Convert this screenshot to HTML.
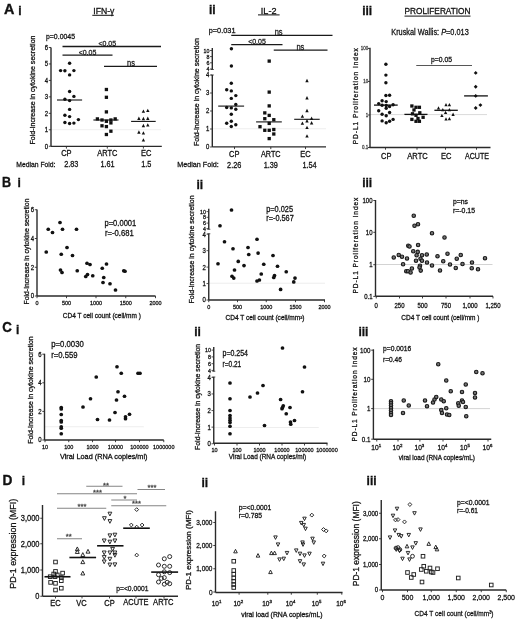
<!DOCTYPE html>
<html><head><meta charset="utf-8"><style>
html,body{margin:0;padding:0;background:#fff;}
svg{display:block;font-family:"Liberation Sans", sans-serif;filter:grayscale(100%);}
text{stroke:#111;stroke-width:0.28px;}
</style></head><body>
<svg width="520" height="619" viewBox="0 0 520 619" font-family='"Liberation Sans", sans-serif' fill="#111">
<rect width="520" height="619" fill="#fff"/>
<text x="4.00" y="13.50" font-size="14" font-weight="bold" textLength="10.4" lengthAdjust="spacingAndGlyphs" style="stroke-width:0.35px">A</text>
<text x="18.20" y="15.30" font-size="12" font-weight="bold" style="stroke-width:0.3px">i</text>
<text x="209.00" y="14.40" font-size="12" font-weight="bold" style="stroke-width:0.3px">ii</text>
<text x="362.20" y="14.50" font-size="12" font-weight="bold" style="stroke-width:0.3px">iii</text>
<text x="2.00" y="187.30" font-size="14" font-weight="bold" textLength="9.1" lengthAdjust="spacingAndGlyphs" style="stroke-width:0.35px">B</text>
<text x="17.50" y="187.30" font-size="12" font-weight="bold" style="stroke-width:0.3px">i</text>
<text x="196.50" y="188.70" font-size="12" font-weight="bold" style="stroke-width:0.3px">ii</text>
<text x="362.20" y="187.00" font-size="12" font-weight="bold" style="stroke-width:0.3px">iii</text>
<text x="2.20" y="332.40" font-size="14" font-weight="bold" textLength="9.6" lengthAdjust="spacingAndGlyphs" style="stroke-width:0.35px">C</text>
<text x="15.90" y="334.40" font-size="12" font-weight="bold" style="stroke-width:0.3px">i</text>
<text x="194.20" y="335.50" font-size="12" font-weight="bold" style="stroke-width:0.3px">ii</text>
<text x="358.40" y="335.50" font-size="12" font-weight="bold" style="stroke-width:0.3px">iii</text>
<text x="2.50" y="484.70" font-size="14" font-weight="bold" textLength="9.9" lengthAdjust="spacingAndGlyphs" style="stroke-width:0.35px">D</text>
<text x="21.80" y="485.40" font-size="12" font-weight="bold" style="stroke-width:0.3px">i</text>
<text x="201.50" y="486.70" font-size="12" font-weight="bold" style="stroke-width:0.3px">ii</text>
<text x="366.60" y="485.30" font-size="12" font-weight="bold" style="stroke-width:0.3px">iii</text>
<text x="103.85" y="14.30" font-size="8.6" text-anchor="middle" textLength="21.10" lengthAdjust="spacingAndGlyphs">IFN-γ</text>
<line x1="92.30" y1="15.30" x2="113.80" y2="15.30" stroke="#111" stroke-width="1.0"/>
<text x="60.50" y="38.54" font-size="7.6" text-anchor="middle" textLength="29.00" lengthAdjust="spacingAndGlyphs">p=0.0045</text>
<text x="32.70" y="92.10" font-size="7" text-anchor="middle" textLength="109.00" lengthAdjust="spacingAndGlyphs" transform="rotate(-90 32.70 90.00)">Fold-Increase in cytokine secretion</text>
<line x1="51.00" y1="129.70" x2="161.00" y2="129.70" stroke="#e6e6e6" stroke-width="0.6"/>
<line x1="51.00" y1="47.50" x2="51.00" y2="146.25" stroke="#2a2a2a" stroke-width="1.4"/>
<line x1="48.80" y1="146.25" x2="51.00" y2="146.25" stroke="#2a2a2a" stroke-width="0.9"/>
<text x="48.00" y="148.67" font-size="6.720000000000001" text-anchor="end" textLength="3.34" lengthAdjust="spacingAndGlyphs">0</text>
<line x1="48.80" y1="129.79" x2="51.00" y2="129.79" stroke="#2a2a2a" stroke-width="0.9"/>
<text x="48.00" y="132.21" font-size="6.720000000000001" text-anchor="end" textLength="3.34" lengthAdjust="spacingAndGlyphs">1</text>
<line x1="48.80" y1="113.33" x2="51.00" y2="113.33" stroke="#2a2a2a" stroke-width="0.9"/>
<text x="48.00" y="115.75" font-size="6.720000000000001" text-anchor="end" textLength="3.34" lengthAdjust="spacingAndGlyphs">2</text>
<line x1="48.80" y1="96.87" x2="51.00" y2="96.87" stroke="#2a2a2a" stroke-width="0.9"/>
<text x="48.00" y="99.29" font-size="6.720000000000001" text-anchor="end" textLength="3.34" lengthAdjust="spacingAndGlyphs">3</text>
<line x1="48.80" y1="80.41" x2="51.00" y2="80.41" stroke="#2a2a2a" stroke-width="0.9"/>
<text x="48.00" y="82.83" font-size="6.720000000000001" text-anchor="end" textLength="3.34" lengthAdjust="spacingAndGlyphs">4</text>
<line x1="48.80" y1="63.95" x2="51.00" y2="63.95" stroke="#2a2a2a" stroke-width="0.9"/>
<text x="48.00" y="66.37" font-size="6.720000000000001" text-anchor="end" textLength="3.34" lengthAdjust="spacingAndGlyphs">5</text>
<line x1="48.80" y1="47.49" x2="51.00" y2="47.49" stroke="#2a2a2a" stroke-width="0.9"/>
<text x="48.00" y="49.91" font-size="6.720000000000001" text-anchor="end" textLength="3.34" lengthAdjust="spacingAndGlyphs">6</text>
<line x1="51.00" y1="146.40" x2="161.80" y2="146.40" stroke="#2a2a2a" stroke-width="1.4"/>
<line x1="66.40" y1="146.40" x2="66.40" y2="148.60" stroke="#2a2a2a" stroke-width="0.9"/>
<line x1="107.30" y1="146.40" x2="107.30" y2="148.60" stroke="#2a2a2a" stroke-width="0.9"/>
<line x1="143.40" y1="146.40" x2="143.40" y2="148.60" stroke="#2a2a2a" stroke-width="0.9"/>
<text x="66.40" y="155.62" font-size="8.4" text-anchor="middle" textLength="10.42" lengthAdjust="spacingAndGlyphs">CP</text>
<text x="107.30" y="155.59" font-size="8.3" text-anchor="middle" textLength="20.00" lengthAdjust="spacingAndGlyphs">ARTC</text>
<text x="146.30" y="155.62" font-size="8.4" text-anchor="middle" textLength="10.42" lengthAdjust="spacingAndGlyphs">EC</text>
<text x="35.88" y="166.78" font-size="8.0" text-anchor="middle" textLength="39.25" lengthAdjust="spacingAndGlyphs">Median Fold:</text>
<text x="71.25" y="166.89" font-size="8.3" text-anchor="middle" textLength="14.22" lengthAdjust="spacingAndGlyphs">2.83</text>
<text x="107.50" y="166.89" font-size="8.3" text-anchor="middle" textLength="14.22" lengthAdjust="spacingAndGlyphs">1.61</text>
<text x="146.30" y="166.89" font-size="8.3" text-anchor="middle" textLength="10.15" lengthAdjust="spacingAndGlyphs">1.5</text>
<line x1="62.50" y1="46.50" x2="161.00" y2="46.50" stroke="#1a1a1a" stroke-width="1.3"/>
<text x="107.30" y="45.82" font-size="7.840000000000001" text-anchor="middle" textLength="17.71" lengthAdjust="spacingAndGlyphs" fill="#1a1a1a" style="stroke:#1a1a1a">&lt;0.05</text>
<line x1="62.50" y1="55.20" x2="112.50" y2="55.20" stroke="#1a1a1a" stroke-width="1.3"/>
<text x="87.50" y="54.52" font-size="7.840000000000001" text-anchor="middle" textLength="17.71" lengthAdjust="spacingAndGlyphs" fill="#1a1a1a" style="stroke:#1a1a1a">&lt;0.05</text>
<line x1="104.00" y1="66.40" x2="157.00" y2="66.40" stroke="#1a1a1a" stroke-width="1.3"/>
<text x="131.00" y="66.42" font-size="8.4" text-anchor="middle" textLength="7.92" lengthAdjust="spacingAndGlyphs" fill="#1a1a1a" style="stroke:#1a1a1a">ns</text>
<circle cx="69.60" cy="63.30" r="1.72" fill="#111"/>
<circle cx="60.60" cy="70.60" r="1.72" fill="#111"/>
<circle cx="64.90" cy="70.80" r="1.72" fill="#111"/>
<circle cx="73.90" cy="70.60" r="1.72" fill="#111"/>
<circle cx="69.60" cy="74.90" r="1.72" fill="#111"/>
<circle cx="69.60" cy="91.50" r="1.72" fill="#111"/>
<circle cx="73.90" cy="96.40" r="1.72" fill="#111"/>
<circle cx="64.90" cy="99.30" r="1.72" fill="#111"/>
<circle cx="69.60" cy="100.60" r="1.72" fill="#111"/>
<circle cx="69.60" cy="109.40" r="1.72" fill="#111"/>
<circle cx="64.90" cy="115.20" r="1.72" fill="#111"/>
<circle cx="69.60" cy="116.60" r="1.72" fill="#111"/>
<circle cx="78.40" cy="119.60" r="1.72" fill="#111"/>
<circle cx="64.90" cy="122.50" r="1.72" fill="#111"/>
<circle cx="69.60" cy="123.50" r="1.72" fill="#111"/>
<circle cx="73.90" cy="123.10" r="1.72" fill="#111"/>
<line x1="57.00" y1="100.00" x2="82.10" y2="100.00" stroke="#111" stroke-width="1.1"/>
<rect x="104.75" y="87.85" width="3.3" height="3.3" fill="#111"/>
<rect x="104.75" y="95.65" width="3.3" height="3.3" fill="#111"/>
<rect x="104.75" y="110.25" width="3.3" height="3.3" fill="#111"/>
<rect x="95.75" y="117.25" width="3.3" height="3.3" fill="#111"/>
<rect x="100.35" y="118.35" width="3.3" height="3.3" fill="#111"/>
<rect x="104.75" y="119.65" width="3.3" height="3.3" fill="#111"/>
<rect x="109.25" y="118.35" width="3.3" height="3.3" fill="#111"/>
<rect x="113.55" y="117.25" width="3.3" height="3.3" fill="#111"/>
<rect x="109.25" y="121.25" width="3.3" height="3.3" fill="#111"/>
<rect x="100.35" y="124.15" width="3.3" height="3.3" fill="#111"/>
<rect x="104.75" y="124.95" width="3.3" height="3.3" fill="#111"/>
<rect x="109.25" y="129.55" width="3.3" height="3.3" fill="#111"/>
<rect x="104.75" y="132.85" width="3.3" height="3.3" fill="#111"/>
<line x1="93.40" y1="120.00" x2="118.50" y2="120.00" stroke="#111" stroke-width="1.1"/>
<polygon points="143.40,109.47 145.10,112.83 141.70,112.83" fill="#111"/>
<polygon points="147.80,108.67 149.50,112.03 146.10,112.03" fill="#111"/>
<polygon points="138.90,116.57 140.60,119.93 137.20,119.93" fill="#111"/>
<polygon points="143.40,116.87 145.10,120.23 141.70,120.23" fill="#111"/>
<polygon points="147.80,116.57 149.50,119.93 146.10,119.93" fill="#111"/>
<polygon points="143.40,123.87 145.10,127.23 141.70,127.23" fill="#111"/>
<polygon points="147.80,123.17 149.50,126.53 146.10,126.53" fill="#111"/>
<polygon points="138.90,130.37 140.60,133.73 137.20,133.73" fill="#111"/>
<polygon points="143.40,131.17 145.10,134.53 141.70,134.53" fill="#111"/>
<polygon points="143.40,138.17 145.10,141.53 141.70,141.53" fill="#111"/>
<line x1="131.10" y1="121.40" x2="155.70" y2="121.40" stroke="#111" stroke-width="1.1"/>
<text x="268.65" y="13.54" font-size="9" text-anchor="middle" textLength="15.70" lengthAdjust="spacingAndGlyphs">IL-2</text>
<line x1="258.00" y1="14.90" x2="279.60" y2="14.90" stroke="#111" stroke-width="1.0"/>
<text x="222.12" y="32.84" font-size="7.9" text-anchor="middle" textLength="26.75" lengthAdjust="spacingAndGlyphs">p=0.031</text>
<text x="197.00" y="94.10" font-size="7" text-anchor="middle" textLength="108.00" lengthAdjust="spacingAndGlyphs" transform="rotate(-90 197.00 92.00)">Fold-Increase in cytokine secretion</text>
<line x1="212.50" y1="128.75" x2="326.00" y2="128.75" stroke="#e2e2e2" stroke-width="0.6"/>
<line x1="212.30" y1="48.00" x2="212.30" y2="69.50" stroke="#2a2a2a" stroke-width="1.4"/>
<line x1="210.00" y1="50.50" x2="212.30" y2="50.50" stroke="#2a2a2a" stroke-width="0.8"/>
<text x="209.50" y="52.64" font-size="5.936" text-anchor="end" textLength="5.90" lengthAdjust="spacingAndGlyphs">10</text>
<line x1="210.00" y1="56.60" x2="212.30" y2="56.60" stroke="#2a2a2a" stroke-width="0.8"/>
<text x="209.50" y="58.74" font-size="5.936" text-anchor="end" textLength="2.95" lengthAdjust="spacingAndGlyphs">8</text>
<line x1="210.00" y1="62.80" x2="212.30" y2="62.80" stroke="#2a2a2a" stroke-width="0.8"/>
<text x="209.50" y="64.94" font-size="5.936" text-anchor="end" textLength="2.95" lengthAdjust="spacingAndGlyphs">6</text>
<line x1="210.00" y1="69.00" x2="212.30" y2="69.00" stroke="#2a2a2a" stroke-width="0.8"/>
<text x="209.50" y="71.14" font-size="5.936" text-anchor="end" textLength="2.95" lengthAdjust="spacingAndGlyphs">4</text>
<line x1="210.80" y1="69.50" x2="213.80" y2="69.50" stroke="#2a2a2a" stroke-width="0.8"/>
<line x1="212.30" y1="75.00" x2="212.30" y2="147.00" stroke="#2a2a2a" stroke-width="1.4"/>
<line x1="210.80" y1="75.00" x2="213.80" y2="75.00" stroke="#2a2a2a" stroke-width="0.8"/>
<line x1="210.00" y1="147.00" x2="212.30" y2="147.00" stroke="#2a2a2a" stroke-width="0.8"/>
<text x="209.30" y="149.42" font-size="6.720000000000001" text-anchor="end" textLength="3.34" lengthAdjust="spacingAndGlyphs">0</text>
<line x1="210.00" y1="129.00" x2="212.30" y2="129.00" stroke="#2a2a2a" stroke-width="0.8"/>
<text x="209.30" y="131.42" font-size="6.720000000000001" text-anchor="end" textLength="3.34" lengthAdjust="spacingAndGlyphs">1</text>
<line x1="210.00" y1="111.00" x2="212.30" y2="111.00" stroke="#2a2a2a" stroke-width="0.8"/>
<text x="209.30" y="113.42" font-size="6.720000000000001" text-anchor="end" textLength="3.34" lengthAdjust="spacingAndGlyphs">2</text>
<line x1="210.00" y1="93.00" x2="212.30" y2="93.00" stroke="#2a2a2a" stroke-width="0.8"/>
<text x="209.30" y="95.42" font-size="6.720000000000001" text-anchor="end" textLength="3.34" lengthAdjust="spacingAndGlyphs">3</text>
<line x1="210.00" y1="75.00" x2="212.30" y2="75.00" stroke="#2a2a2a" stroke-width="0.8"/>
<text x="209.30" y="77.42" font-size="6.720000000000001" text-anchor="end" textLength="3.34" lengthAdjust="spacingAndGlyphs">4</text>
<line x1="212.30" y1="146.90" x2="326.00" y2="146.90" stroke="#2a2a2a" stroke-width="1.4"/>
<line x1="234.50" y1="146.90" x2="234.50" y2="149.10" stroke="#2a2a2a" stroke-width="0.9"/>
<line x1="270.80" y1="146.90" x2="270.80" y2="149.10" stroke="#2a2a2a" stroke-width="0.9"/>
<line x1="305.50" y1="146.90" x2="305.50" y2="149.10" stroke="#2a2a2a" stroke-width="0.9"/>
<text x="234.20" y="157.42" font-size="8.4" text-anchor="middle" textLength="10.42" lengthAdjust="spacingAndGlyphs">CP</text>
<text x="270.80" y="157.39" font-size="8.3" text-anchor="middle" textLength="19.60" lengthAdjust="spacingAndGlyphs">ARTC</text>
<text x="305.40" y="157.42" font-size="8.4" text-anchor="middle" textLength="10.42" lengthAdjust="spacingAndGlyphs">EC</text>
<text x="198.05" y="167.48" font-size="8.0" text-anchor="middle" textLength="41.50" lengthAdjust="spacingAndGlyphs">Median Fold:</text>
<text x="234.20" y="167.59" font-size="8.3" text-anchor="middle" textLength="14.22" lengthAdjust="spacingAndGlyphs">2.26</text>
<text x="270.80" y="167.59" font-size="8.3" text-anchor="middle" textLength="14.22" lengthAdjust="spacingAndGlyphs">1.39</text>
<text x="309.50" y="167.59" font-size="8.3" text-anchor="middle" textLength="14.22" lengthAdjust="spacingAndGlyphs">1.54</text>
<line x1="231.25" y1="35.30" x2="332.50" y2="35.30" stroke="#1a1a1a" stroke-width="1.3"/>
<text x="278.60" y="35.02" font-size="8.4" text-anchor="middle" textLength="7.92" lengthAdjust="spacingAndGlyphs" fill="#1a1a1a" style="stroke:#1a1a1a">ns</text>
<line x1="231.25" y1="44.60" x2="282.50" y2="44.60" stroke="#1a1a1a" stroke-width="1.3"/>
<text x="257.00" y="44.02" font-size="7.840000000000001" text-anchor="middle" textLength="17.71" lengthAdjust="spacingAndGlyphs" fill="#1a1a1a" style="stroke:#1a1a1a">&lt;0.05</text>
<line x1="273.75" y1="50.10" x2="327.50" y2="50.10" stroke="#1a1a1a" stroke-width="1.3"/>
<text x="300.40" y="49.52" font-size="8.4" text-anchor="middle" textLength="7.92" lengthAdjust="spacingAndGlyphs" fill="#1a1a1a" style="stroke:#1a1a1a">ns</text>
<circle cx="231.40" cy="48.70" r="1.72" fill="#111"/>
<circle cx="231.40" cy="66.00" r="1.72" fill="#111"/>
<circle cx="231.30" cy="83.20" r="1.72" fill="#111"/>
<circle cx="226.70" cy="89.70" r="1.72" fill="#111"/>
<circle cx="231.30" cy="90.90" r="1.72" fill="#111"/>
<circle cx="235.80" cy="95.60" r="1.72" fill="#111"/>
<circle cx="231.30" cy="98.40" r="1.72" fill="#111"/>
<circle cx="235.80" cy="104.40" r="1.72" fill="#111"/>
<circle cx="226.70" cy="107.50" r="1.72" fill="#111"/>
<circle cx="231.30" cy="107.90" r="1.72" fill="#111"/>
<circle cx="235.80" cy="109.30" r="1.72" fill="#111"/>
<circle cx="231.30" cy="114.30" r="1.72" fill="#111"/>
<circle cx="231.30" cy="121.20" r="1.72" fill="#111"/>
<circle cx="226.70" cy="123.20" r="1.72" fill="#111"/>
<circle cx="235.80" cy="124.80" r="1.72" fill="#111"/>
<circle cx="231.30" cy="126.50" r="1.72" fill="#111"/>
<line x1="218.20" y1="106.10" x2="244.10" y2="106.10" stroke="#111" stroke-width="1.1"/>
<rect x="267.55" y="59.45" width="3.3" height="3.3" fill="#111"/>
<rect x="267.55" y="90.45" width="3.3" height="3.3" fill="#111"/>
<rect x="267.55" y="104.25" width="3.3" height="3.3" fill="#111"/>
<rect x="263.15" y="111.25" width="3.3" height="3.3" fill="#111"/>
<rect x="267.55" y="113.75" width="3.3" height="3.3" fill="#111"/>
<rect x="263.15" y="117.05" width="3.3" height="3.3" fill="#111"/>
<rect x="272.15" y="118.05" width="3.3" height="3.3" fill="#111"/>
<rect x="267.55" y="121.75" width="3.3" height="3.3" fill="#111"/>
<rect x="258.35" y="125.05" width="3.3" height="3.3" fill="#111"/>
<rect x="263.15" y="128.65" width="3.3" height="3.3" fill="#111"/>
<rect x="267.55" y="128.65" width="3.3" height="3.3" fill="#111"/>
<rect x="272.15" y="127.85" width="3.3" height="3.3" fill="#111"/>
<rect x="272.15" y="132.35" width="3.3" height="3.3" fill="#111"/>
<rect x="267.55" y="136.95" width="3.3" height="3.3" fill="#111"/>
<line x1="256.10" y1="121.90" x2="281.80" y2="121.90" stroke="#111" stroke-width="1.1"/>
<polygon points="307.00,78.87 308.70,82.23 305.30,82.23" fill="#111"/>
<polygon points="307.00,96.07 308.70,99.43 305.30,99.43" fill="#111"/>
<polygon points="307.00,108.77 308.70,112.13 305.30,112.13" fill="#111"/>
<polygon points="302.40,114.47 304.10,117.83 300.70,117.83" fill="#111"/>
<polygon points="311.60,116.57 313.30,119.93 309.90,119.93" fill="#111"/>
<polygon points="307.00,119.07 308.70,122.43 305.30,122.43" fill="#111"/>
<polygon points="302.40,121.47 304.10,124.83 300.70,124.83" fill="#111"/>
<polygon points="311.60,121.07 313.30,124.43 309.90,124.43" fill="#111"/>
<polygon points="307.00,125.67 308.70,129.03 305.30,129.03" fill="#111"/>
<polygon points="307.00,134.17 308.70,137.53 305.30,137.53" fill="#111"/>
<line x1="294.20" y1="119.30" x2="319.70" y2="119.30" stroke="#111" stroke-width="1.1"/>
<text x="437.50" y="14.15" font-size="8.2" text-anchor="middle" textLength="66.00" lengthAdjust="spacingAndGlyphs">PROLIFERATION</text>
<line x1="404.50" y1="16.10" x2="470.50" y2="16.10" stroke="#111" stroke-width="1.0"/>
<text x="391.25" y="35.27" font-size="8.8" textLength="77.50" lengthAdjust="spacingAndGlyphs">Kruskal Wallis: <tspan font-style="italic">P</tspan>=0.013</text>
<text x="356.30" y="98.18" font-size="6.6" text-anchor="middle" textLength="96.00" lengthAdjust="spacing" transform="rotate(-90 356.30 96.20)">PD-L1 Proliferation Index</text>
<line x1="369.50" y1="114.60" x2="487.00" y2="114.60" stroke="#cfcfcf" stroke-width="0.8"/>
<line x1="370.00" y1="47.80" x2="370.00" y2="147.50" stroke="#2a2a2a" stroke-width="1.4"/>
<line x1="367.80" y1="48.50" x2="370.00" y2="48.50" stroke="#2a2a2a" stroke-width="0.9"/>
<text x="368.20" y="50.31" font-size="5.040000000000001" text-anchor="end" textLength="7.51" lengthAdjust="spacingAndGlyphs" fill="#444" style="stroke:#444">100</text>
<line x1="367.80" y1="81.50" x2="370.00" y2="81.50" stroke="#2a2a2a" stroke-width="0.9"/>
<text x="368.20" y="83.31" font-size="5.040000000000001" text-anchor="end" textLength="5.01" lengthAdjust="spacingAndGlyphs" fill="#444" style="stroke:#444">10</text>
<line x1="367.80" y1="115.00" x2="370.00" y2="115.00" stroke="#2a2a2a" stroke-width="0.9"/>
<text x="368.20" y="116.81" font-size="5.040000000000001" text-anchor="end" textLength="2.50" lengthAdjust="spacingAndGlyphs" fill="#444" style="stroke:#444">1</text>
<line x1="367.80" y1="147.50" x2="370.00" y2="147.50" stroke="#2a2a2a" stroke-width="0.9"/>
<text x="368.20" y="149.31" font-size="5.040000000000001" text-anchor="end" textLength="6.26" lengthAdjust="spacingAndGlyphs" fill="#444" style="stroke:#444">0.1</text>
<line x1="369.50" y1="147.50" x2="490.50" y2="147.50" stroke="#2a2a2a" stroke-width="1.4"/>
<line x1="385.50" y1="147.50" x2="385.50" y2="149.70" stroke="#2a2a2a" stroke-width="0.9"/>
<line x1="417.00" y1="147.50" x2="417.00" y2="149.70" stroke="#2a2a2a" stroke-width="0.9"/>
<line x1="445.50" y1="147.50" x2="445.50" y2="149.70" stroke="#2a2a2a" stroke-width="0.9"/>
<line x1="476.50" y1="147.50" x2="476.50" y2="149.70" stroke="#2a2a2a" stroke-width="0.9"/>
<text x="386.20" y="159.22" font-size="8.4" text-anchor="middle" textLength="10.42" lengthAdjust="spacingAndGlyphs">CP</text>
<text x="417.50" y="159.19" font-size="8.3" text-anchor="middle" textLength="20.40" lengthAdjust="spacingAndGlyphs">ARTC</text>
<text x="446.20" y="159.22" font-size="8.4" text-anchor="middle" textLength="10.42" lengthAdjust="spacingAndGlyphs">EC</text>
<text x="477.00" y="159.19" font-size="8.3" text-anchor="middle" textLength="24.00" lengthAdjust="spacingAndGlyphs">ACUTE</text>
<text x="441.50" y="61.95" font-size="7.5" text-anchor="middle" textLength="21.00" lengthAdjust="spacingAndGlyphs">p=0.05</text>
<line x1="416.25" y1="65.50" x2="472.00" y2="65.50" stroke="#444" stroke-width="0.9"/>
<circle cx="385.90" cy="64.30" r="1.7" fill="#111"/>
<circle cx="385.90" cy="75.10" r="1.7" fill="#111"/>
<circle cx="385.90" cy="82.80" r="1.7" fill="#111"/>
<circle cx="385.90" cy="95.50" r="1.7" fill="#111"/>
<circle cx="389.60" cy="95.20" r="1.7" fill="#111"/>
<circle cx="382.10" cy="100.70" r="1.7" fill="#111"/>
<circle cx="386.20" cy="101.60" r="1.7" fill="#111"/>
<circle cx="378.70" cy="103.60" r="1.7" fill="#111"/>
<circle cx="382.10" cy="105.30" r="1.7" fill="#111"/>
<circle cx="386.20" cy="105.50" r="1.7" fill="#111"/>
<circle cx="389.60" cy="106.50" r="1.7" fill="#111"/>
<circle cx="393.10" cy="104.70" r="1.7" fill="#111"/>
<circle cx="386.20" cy="108.20" r="1.7" fill="#111"/>
<circle cx="378.70" cy="110.80" r="1.7" fill="#111"/>
<circle cx="389.60" cy="112.50" r="1.7" fill="#111"/>
<circle cx="382.10" cy="114.30" r="1.7" fill="#111"/>
<circle cx="386.20" cy="115.70" r="1.7" fill="#111"/>
<circle cx="382.10" cy="120.90" r="1.7" fill="#111"/>
<circle cx="386.20" cy="122.80" r="1.7" fill="#111"/>
<circle cx="389.60" cy="121.20" r="1.7" fill="#111"/>
<circle cx="393.10" cy="119.40" r="1.7" fill="#111"/>
<line x1="374.00" y1="105.10" x2="397.70" y2="105.10" stroke="#111" stroke-width="1.3"/>
<rect x="410.25" y="104.35" width="3.3" height="3.3" fill="#111"/>
<rect x="414.35" y="105.65" width="3.3" height="3.3" fill="#111"/>
<rect x="417.75" y="105.65" width="3.3" height="3.3" fill="#111"/>
<rect x="410.85" y="112.15" width="3.3" height="3.3" fill="#111"/>
<rect x="414.35" y="113.65" width="3.3" height="3.3" fill="#111"/>
<rect x="418.15" y="111.15" width="3.3" height="3.3" fill="#111"/>
<rect x="421.45" y="115.65" width="3.3" height="3.3" fill="#111"/>
<rect x="410.25" y="117.75" width="3.3" height="3.3" fill="#111"/>
<rect x="414.35" y="119.65" width="3.3" height="3.3" fill="#111"/>
<rect x="417.75" y="119.65" width="3.3" height="3.3" fill="#111"/>
<rect x="412.35" y="108.35" width="3.3" height="3.3" fill="#111"/>
<rect x="416.35" y="116.85" width="3.3" height="3.3" fill="#111"/>
<line x1="404.40" y1="114.40" x2="427.50" y2="114.40" stroke="#111" stroke-width="1.3"/>
<polygon points="446.00,103.02 447.65,106.28 444.35,106.28" fill="#111"/>
<polygon points="449.40,103.02 451.05,106.28 447.75,106.28" fill="#111"/>
<polygon points="438.50,106.31 440.15,109.58 436.85,109.58" fill="#111"/>
<polygon points="442.80,108.02 444.45,111.28 441.15,111.28" fill="#111"/>
<polygon points="449.40,108.02 451.05,111.28 447.75,111.28" fill="#111"/>
<polygon points="441.90,113.81 443.55,117.08 440.25,117.08" fill="#111"/>
<polygon points="445.60,110.72 447.25,113.98 443.95,113.98" fill="#111"/>
<polygon points="453.10,112.62 454.75,115.89 451.45,115.89" fill="#111"/>
<polygon points="446.00,117.22 447.65,120.48 444.35,120.48" fill="#111"/>
<polygon points="449.40,117.02 451.05,120.28 447.75,120.28" fill="#111"/>
<line x1="434.40" y1="110.30" x2="457.80" y2="110.30" stroke="#111" stroke-width="1.3"/>
<polygon points="475.70,70.95 477.65,72.90 475.70,74.85 473.75,72.90" fill="#111"/>
<polygon points="475.70,84.75 477.65,86.70 475.70,88.65 473.75,86.70" fill="#111"/>
<polygon points="475.70,93.95 477.65,95.90 475.70,97.85 473.75,95.90" fill="#111"/>
<polygon points="480.40,103.15 482.35,105.10 480.40,107.05 478.45,105.10" fill="#111"/>
<polygon points="475.70,106.05 477.65,108.00 475.70,109.95 473.75,108.00" fill="#111"/>
<line x1="464.10" y1="95.90" x2="487.90" y2="95.90" stroke="#111" stroke-width="1.3"/>
<text x="26.70" y="253.60" font-size="7" text-anchor="middle" textLength="106.00" lengthAdjust="spacingAndGlyphs" transform="rotate(-90 26.70 251.50)">Fold-Increase in cytokine secretion</text>
<line x1="37.00" y1="209.50" x2="37.00" y2="296.00" stroke="#2a2a2a" stroke-width="1.4"/>
<line x1="34.80" y1="296.00" x2="37.00" y2="296.00" stroke="#2a2a2a" stroke-width="0.9"/>
<text x="34.00" y="298.42" font-size="6.720000000000001" text-anchor="end" textLength="3.34" lengthAdjust="spacingAndGlyphs">0</text>
<line x1="34.80" y1="267.25" x2="37.00" y2="267.25" stroke="#2a2a2a" stroke-width="0.9"/>
<text x="34.00" y="269.67" font-size="6.720000000000001" text-anchor="end" textLength="3.34" lengthAdjust="spacingAndGlyphs">2</text>
<line x1="34.80" y1="238.50" x2="37.00" y2="238.50" stroke="#2a2a2a" stroke-width="0.9"/>
<text x="34.00" y="240.92" font-size="6.720000000000001" text-anchor="end" textLength="3.34" lengthAdjust="spacingAndGlyphs">4</text>
<line x1="34.80" y1="209.75" x2="37.00" y2="209.75" stroke="#2a2a2a" stroke-width="0.9"/>
<text x="34.00" y="212.17" font-size="6.720000000000001" text-anchor="end" textLength="3.34" lengthAdjust="spacingAndGlyphs">6</text>
<line x1="37.00" y1="296.00" x2="155.50" y2="296.00" stroke="#2a2a2a" stroke-width="1.4"/>
<line x1="37.00" y1="296.00" x2="37.00" y2="298.20" stroke="#2a2a2a" stroke-width="0.9"/>
<text x="37.00" y="305.22" font-size="6.16" text-anchor="middle" textLength="3.06" lengthAdjust="spacingAndGlyphs">0</text>
<line x1="66.50" y1="296.00" x2="66.50" y2="298.20" stroke="#2a2a2a" stroke-width="0.9"/>
<text x="66.50" y="305.22" font-size="6.16" text-anchor="middle" textLength="9.18" lengthAdjust="spacingAndGlyphs">500</text>
<line x1="96.00" y1="296.00" x2="96.00" y2="298.20" stroke="#2a2a2a" stroke-width="0.9"/>
<text x="96.00" y="305.22" font-size="6.16" text-anchor="middle" textLength="12.24" lengthAdjust="spacingAndGlyphs">1000</text>
<line x1="125.75" y1="296.00" x2="125.75" y2="298.20" stroke="#2a2a2a" stroke-width="0.9"/>
<text x="125.75" y="305.22" font-size="6.16" text-anchor="middle" textLength="12.24" lengthAdjust="spacingAndGlyphs">1500</text>
<line x1="155.50" y1="296.00" x2="155.50" y2="298.20" stroke="#2a2a2a" stroke-width="0.9"/>
<text x="155.50" y="305.22" font-size="6.16" text-anchor="middle" textLength="12.24" lengthAdjust="spacingAndGlyphs">2000</text>
<text x="101.85" y="318.12" font-size="7" text-anchor="middle" textLength="78.10" lengthAdjust="spacingAndGlyphs">CD4 T cell count (cell/mm )</text>
<text x="120.38" y="226.02" font-size="8.4" text-anchor="middle" textLength="31.75" lengthAdjust="spacingAndGlyphs">p=0.0001</text>
<text x="119.38" y="236.02" font-size="8.4" text-anchor="middle" textLength="28.75" lengthAdjust="spacingAndGlyphs">r=-0.681</text>
<circle cx="60.00" cy="222.50" r="1.85" fill="#111"/>
<circle cx="48.25" cy="229.25" r="1.85" fill="#111"/>
<circle cx="62.50" cy="229.25" r="1.85" fill="#111"/>
<circle cx="76.50" cy="229.25" r="1.85" fill="#111"/>
<circle cx="52.50" cy="232.50" r="1.85" fill="#111"/>
<circle cx="67.00" cy="247.50" r="1.85" fill="#111"/>
<circle cx="46.25" cy="252.00" r="1.85" fill="#111"/>
<circle cx="61.25" cy="254.25" r="1.85" fill="#111"/>
<circle cx="72.50" cy="255.50" r="1.85" fill="#111"/>
<circle cx="87.00" cy="263.25" r="1.85" fill="#111"/>
<circle cx="90.00" cy="264.50" r="1.85" fill="#111"/>
<circle cx="102.25" cy="268.25" r="1.85" fill="#111"/>
<circle cx="106.50" cy="264.00" r="1.85" fill="#111"/>
<circle cx="60.50" cy="270.00" r="1.85" fill="#111"/>
<circle cx="62.00" cy="272.50" r="1.85" fill="#111"/>
<circle cx="77.25" cy="270.75" r="1.85" fill="#111"/>
<circle cx="85.75" cy="276.50" r="1.85" fill="#111"/>
<circle cx="87.50" cy="274.50" r="1.85" fill="#111"/>
<circle cx="92.75" cy="275.75" r="1.85" fill="#111"/>
<circle cx="103.75" cy="277.50" r="1.85" fill="#111"/>
<circle cx="103.00" cy="282.50" r="1.85" fill="#111"/>
<circle cx="110.00" cy="283.75" r="1.85" fill="#111"/>
<circle cx="115.50" cy="290.00" r="1.85" fill="#111"/>
<circle cx="123.75" cy="270.75" r="1.85" fill="#111"/>
<circle cx="125.00" cy="271.25" r="1.85" fill="#111"/>
<text x="191.80" y="251.50" font-size="7" text-anchor="middle" textLength="108.00" lengthAdjust="spacingAndGlyphs" transform="rotate(-90 191.80 249.40)">Fold-Increase in cytokine secretion</text>
<line x1="208.75" y1="283.25" x2="325.00" y2="283.25" stroke="#e2e2e2" stroke-width="0.6"/>
<line x1="208.75" y1="208.80" x2="208.75" y2="229.30" stroke="#2a2a2a" stroke-width="1.4"/>
<line x1="206.50" y1="211.60" x2="208.75" y2="211.60" stroke="#2a2a2a" stroke-width="0.8"/>
<text x="206.00" y="213.74" font-size="5.936" text-anchor="end" textLength="5.90" lengthAdjust="spacingAndGlyphs">10</text>
<line x1="206.50" y1="217.30" x2="208.75" y2="217.30" stroke="#2a2a2a" stroke-width="0.8"/>
<text x="206.00" y="219.44" font-size="5.936" text-anchor="end" textLength="2.95" lengthAdjust="spacingAndGlyphs">8</text>
<line x1="206.50" y1="223.10" x2="208.75" y2="223.10" stroke="#2a2a2a" stroke-width="0.8"/>
<text x="206.00" y="225.24" font-size="5.936" text-anchor="end" textLength="2.95" lengthAdjust="spacingAndGlyphs">6</text>
<line x1="206.50" y1="228.60" x2="208.75" y2="228.60" stroke="#2a2a2a" stroke-width="0.8"/>
<text x="206.00" y="230.74" font-size="5.936" text-anchor="end" textLength="2.95" lengthAdjust="spacingAndGlyphs">4</text>
<line x1="207.30" y1="229.30" x2="210.30" y2="229.30" stroke="#2a2a2a" stroke-width="0.8"/>
<line x1="208.75" y1="233.75" x2="208.75" y2="300.00" stroke="#2a2a2a" stroke-width="1.4"/>
<line x1="207.30" y1="233.75" x2="210.30" y2="233.75" stroke="#2a2a2a" stroke-width="0.8"/>
<line x1="206.50" y1="300.00" x2="208.75" y2="300.00" stroke="#2a2a2a" stroke-width="0.8"/>
<text x="205.80" y="302.42" font-size="6.720000000000001" text-anchor="end" textLength="3.34" lengthAdjust="spacingAndGlyphs">0</text>
<line x1="206.50" y1="283.55" x2="208.75" y2="283.55" stroke="#2a2a2a" stroke-width="0.8"/>
<text x="205.80" y="285.97" font-size="6.720000000000001" text-anchor="end" textLength="3.34" lengthAdjust="spacingAndGlyphs">1</text>
<line x1="206.50" y1="267.10" x2="208.75" y2="267.10" stroke="#2a2a2a" stroke-width="0.8"/>
<text x="205.80" y="269.52" font-size="6.720000000000001" text-anchor="end" textLength="3.34" lengthAdjust="spacingAndGlyphs">2</text>
<line x1="206.50" y1="250.65" x2="208.75" y2="250.65" stroke="#2a2a2a" stroke-width="0.8"/>
<text x="205.80" y="253.07" font-size="6.720000000000001" text-anchor="end" textLength="3.34" lengthAdjust="spacingAndGlyphs">3</text>
<line x1="206.50" y1="234.20" x2="208.75" y2="234.20" stroke="#2a2a2a" stroke-width="0.8"/>
<text x="205.80" y="236.62" font-size="6.720000000000001" text-anchor="end" textLength="3.34" lengthAdjust="spacingAndGlyphs">4</text>
<line x1="208.75" y1="300.00" x2="325.00" y2="300.00" stroke="#2a2a2a" stroke-width="1.4"/>
<line x1="208.75" y1="300.00" x2="208.75" y2="302.20" stroke="#2a2a2a" stroke-width="0.9"/>
<text x="208.75" y="308.52" font-size="6.16" text-anchor="middle" textLength="3.06" lengthAdjust="spacingAndGlyphs">0</text>
<line x1="237.50" y1="300.00" x2="237.50" y2="302.20" stroke="#2a2a2a" stroke-width="0.9"/>
<text x="237.50" y="308.52" font-size="6.16" text-anchor="middle" textLength="9.18" lengthAdjust="spacingAndGlyphs">500</text>
<line x1="266.25" y1="300.00" x2="266.25" y2="302.20" stroke="#2a2a2a" stroke-width="0.9"/>
<text x="266.25" y="308.52" font-size="6.16" text-anchor="middle" textLength="12.24" lengthAdjust="spacingAndGlyphs">1000</text>
<line x1="295.50" y1="300.00" x2="295.50" y2="302.20" stroke="#2a2a2a" stroke-width="0.9"/>
<text x="295.50" y="308.52" font-size="6.16" text-anchor="middle" textLength="12.24" lengthAdjust="spacingAndGlyphs">1500</text>
<line x1="324.50" y1="300.00" x2="324.50" y2="302.20" stroke="#2a2a2a" stroke-width="0.9"/>
<text x="324.50" y="308.52" font-size="6.16" text-anchor="middle" textLength="12.24" lengthAdjust="spacingAndGlyphs">2000</text>
<text x="265.00" y="319.52" font-size="7" text-anchor="middle" textLength="79.00" lengthAdjust="spacingAndGlyphs">CD4 T cell count (cell/mm²)</text>
<text x="279.62" y="211.77" font-size="8.4" text-anchor="middle" textLength="26.75" lengthAdjust="spacingAndGlyphs">p=0.025</text>
<text x="280.00" y="221.27" font-size="8.4" text-anchor="middle" textLength="27.50" lengthAdjust="spacingAndGlyphs">r=-0.567</text>
<circle cx="231.50" cy="210.00" r="1.85" fill="#111"/>
<circle cx="220.00" cy="225.75" r="1.85" fill="#111"/>
<circle cx="224.50" cy="241.75" r="1.85" fill="#111"/>
<circle cx="257.00" cy="239.25" r="1.85" fill="#111"/>
<circle cx="233.00" cy="248.75" r="1.85" fill="#111"/>
<circle cx="248.00" cy="247.50" r="1.85" fill="#111"/>
<circle cx="248.75" cy="254.50" r="1.85" fill="#111"/>
<circle cx="258.10" cy="253.10" r="1.85" fill="#111"/>
<circle cx="273.00" cy="255.50" r="1.85" fill="#111"/>
<circle cx="238.25" cy="261.40" r="1.85" fill="#111"/>
<circle cx="218.00" cy="263.75" r="1.85" fill="#111"/>
<circle cx="244.00" cy="265.60" r="1.85" fill="#111"/>
<circle cx="263.75" cy="264.25" r="1.85" fill="#111"/>
<circle cx="277.50" cy="266.25" r="1.85" fill="#111"/>
<circle cx="234.50" cy="270.00" r="1.85" fill="#111"/>
<circle cx="286.25" cy="271.75" r="1.85" fill="#111"/>
<circle cx="232.00" cy="276.25" r="1.85" fill="#111"/>
<circle cx="233.75" cy="278.10" r="1.85" fill="#111"/>
<circle cx="261.25" cy="274.00" r="1.85" fill="#111"/>
<circle cx="274.50" cy="275.50" r="1.85" fill="#111"/>
<circle cx="273.75" cy="277.50" r="1.85" fill="#111"/>
<circle cx="257.00" cy="281.00" r="1.85" fill="#111"/>
<circle cx="259.40" cy="280.00" r="1.85" fill="#111"/>
<circle cx="295.00" cy="278.10" r="1.85" fill="#111"/>
<circle cx="293.75" cy="281.90" r="1.85" fill="#111"/>
<circle cx="280.60" cy="289.40" r="1.85" fill="#111"/>
<text x="356.30" y="247.58" font-size="6.6" text-anchor="middle" textLength="96.00" lengthAdjust="spacing" transform="rotate(-90 356.30 245.60)">PD-L1 Proliferation Index</text>
<line x1="375.75" y1="264.50" x2="492.50" y2="264.50" stroke="#c8c8c8" stroke-width="0.8"/>
<line x1="375.50" y1="200.00" x2="375.50" y2="296.50" stroke="#2a2a2a" stroke-width="1.4"/>
<line x1="373.30" y1="200.50" x2="375.50" y2="200.50" stroke="#2a2a2a" stroke-width="0.9"/>
<text x="372.50" y="202.92" font-size="6.720000000000001" text-anchor="end" textLength="10.01" lengthAdjust="spacingAndGlyphs">100</text>
<line x1="373.30" y1="232.30" x2="375.50" y2="232.30" stroke="#2a2a2a" stroke-width="0.9"/>
<text x="372.50" y="234.72" font-size="6.720000000000001" text-anchor="end" textLength="6.67" lengthAdjust="spacingAndGlyphs">10</text>
<line x1="373.30" y1="264.70" x2="375.50" y2="264.70" stroke="#2a2a2a" stroke-width="0.9"/>
<text x="372.50" y="267.12" font-size="6.720000000000001" text-anchor="end" textLength="3.34" lengthAdjust="spacingAndGlyphs">1</text>
<line x1="373.30" y1="296.40" x2="375.50" y2="296.40" stroke="#2a2a2a" stroke-width="0.9"/>
<text x="372.50" y="298.82" font-size="6.720000000000001" text-anchor="end" textLength="8.34" lengthAdjust="spacingAndGlyphs">0.1</text>
<line x1="375.75" y1="296.25" x2="493.00" y2="296.25" stroke="#2a2a2a" stroke-width="1.4"/>
<line x1="376.25" y1="296.25" x2="376.25" y2="298.45" stroke="#2a2a2a" stroke-width="0.9"/>
<text x="376.25" y="307.92" font-size="6.720000000000001" text-anchor="middle" textLength="3.34" lengthAdjust="spacingAndGlyphs">0</text>
<line x1="399.50" y1="296.25" x2="399.50" y2="298.45" stroke="#2a2a2a" stroke-width="0.9"/>
<text x="399.50" y="307.92" font-size="6.720000000000001" text-anchor="middle" textLength="10.01" lengthAdjust="spacingAndGlyphs">250</text>
<line x1="422.50" y1="296.25" x2="422.50" y2="298.45" stroke="#2a2a2a" stroke-width="0.9"/>
<text x="422.50" y="307.92" font-size="6.720000000000001" text-anchor="middle" textLength="10.01" lengthAdjust="spacingAndGlyphs">500</text>
<line x1="446.00" y1="296.25" x2="446.00" y2="298.45" stroke="#2a2a2a" stroke-width="0.9"/>
<text x="446.00" y="307.92" font-size="6.720000000000001" text-anchor="middle" textLength="10.01" lengthAdjust="spacingAndGlyphs">750</text>
<line x1="470.00" y1="296.25" x2="470.00" y2="298.45" stroke="#2a2a2a" stroke-width="0.9"/>
<text x="470.00" y="307.92" font-size="6.720000000000001" text-anchor="middle" textLength="15.02" lengthAdjust="spacingAndGlyphs">1,000</text>
<line x1="493.00" y1="296.25" x2="493.00" y2="298.45" stroke="#2a2a2a" stroke-width="0.9"/>
<text x="493.00" y="307.92" font-size="6.720000000000001" text-anchor="middle" textLength="15.02" lengthAdjust="spacingAndGlyphs">1,250</text>
<text x="440.38" y="319.52" font-size="7" text-anchor="middle" textLength="78.25" lengthAdjust="spacingAndGlyphs">CD4 T cell count (cell/mm )</text>
<text x="460.50" y="203.77" font-size="7.0" text-anchor="middle" textLength="15.00" lengthAdjust="spacingAndGlyphs">p=ns</text>
<text x="464.00" y="212.52" font-size="7.0" text-anchor="middle" textLength="22.00" lengthAdjust="spacingAndGlyphs">r=-0.15</text>
<circle cx="413.75" cy="215.75" r="1.72" fill="#777" stroke="#1a1a1a" stroke-width="1.15"/>
<circle cx="414.50" cy="225.75" r="1.72" fill="#777" stroke="#1a1a1a" stroke-width="1.15"/>
<circle cx="418.00" cy="224.25" r="1.72" fill="#777" stroke="#1a1a1a" stroke-width="1.15"/>
<circle cx="432.00" cy="233.25" r="1.72" fill="#777" stroke="#1a1a1a" stroke-width="1.15"/>
<circle cx="444.50" cy="237.50" r="1.72" fill="#777" stroke="#1a1a1a" stroke-width="1.15"/>
<circle cx="408.25" cy="245.75" r="1.72" fill="#777" stroke="#1a1a1a" stroke-width="1.15"/>
<circle cx="409.50" cy="246.50" r="1.72" fill="#777" stroke="#1a1a1a" stroke-width="1.15"/>
<circle cx="418.10" cy="245.00" r="1.72" fill="#777" stroke="#1a1a1a" stroke-width="1.15"/>
<circle cx="413.25" cy="251.25" r="1.72" fill="#777" stroke="#1a1a1a" stroke-width="1.15"/>
<circle cx="417.75" cy="251.90" r="1.72" fill="#777" stroke="#1a1a1a" stroke-width="1.15"/>
<circle cx="393.75" cy="257.50" r="1.72" fill="#777" stroke="#1a1a1a" stroke-width="1.15"/>
<circle cx="398.75" cy="255.00" r="1.72" fill="#777" stroke="#1a1a1a" stroke-width="1.15"/>
<circle cx="402.00" cy="256.75" r="1.72" fill="#777" stroke="#1a1a1a" stroke-width="1.15"/>
<circle cx="407.00" cy="258.50" r="1.72" fill="#777" stroke="#1a1a1a" stroke-width="1.15"/>
<circle cx="416.60" cy="255.25" r="1.72" fill="#777" stroke="#1a1a1a" stroke-width="1.15"/>
<circle cx="422.00" cy="255.25" r="1.72" fill="#777" stroke="#1a1a1a" stroke-width="1.15"/>
<circle cx="426.75" cy="254.50" r="1.72" fill="#777" stroke="#1a1a1a" stroke-width="1.15"/>
<circle cx="416.00" cy="260.75" r="1.72" fill="#777" stroke="#1a1a1a" stroke-width="1.15"/>
<circle cx="420.50" cy="258.75" r="1.72" fill="#777" stroke="#1a1a1a" stroke-width="1.15"/>
<circle cx="422.00" cy="260.75" r="1.72" fill="#777" stroke="#1a1a1a" stroke-width="1.15"/>
<circle cx="427.00" cy="262.50" r="1.72" fill="#777" stroke="#1a1a1a" stroke-width="1.15"/>
<circle cx="437.50" cy="256.25" r="1.72" fill="#777" stroke="#1a1a1a" stroke-width="1.15"/>
<circle cx="447.50" cy="253.75" r="1.72" fill="#777" stroke="#1a1a1a" stroke-width="1.15"/>
<circle cx="443.25" cy="261.25" r="1.72" fill="#777" stroke="#1a1a1a" stroke-width="1.15"/>
<circle cx="450.00" cy="264.50" r="1.72" fill="#777" stroke="#1a1a1a" stroke-width="1.15"/>
<circle cx="456.75" cy="258.75" r="1.72" fill="#777" stroke="#1a1a1a" stroke-width="1.15"/>
<circle cx="460.75" cy="255.00" r="1.72" fill="#777" stroke="#1a1a1a" stroke-width="1.15"/>
<circle cx="462.50" cy="264.00" r="1.72" fill="#777" stroke="#1a1a1a" stroke-width="1.15"/>
<circle cx="403.10" cy="264.25" r="1.72" fill="#777" stroke="#1a1a1a" stroke-width="1.15"/>
<circle cx="432.00" cy="265.50" r="1.72" fill="#777" stroke="#1a1a1a" stroke-width="1.15"/>
<circle cx="420.00" cy="265.75" r="1.72" fill="#777" stroke="#1a1a1a" stroke-width="1.15"/>
<circle cx="419.50" cy="267.50" r="1.72" fill="#777" stroke="#1a1a1a" stroke-width="1.15"/>
<circle cx="420.75" cy="270.60" r="1.72" fill="#777" stroke="#1a1a1a" stroke-width="1.15"/>
<circle cx="455.75" cy="268.00" r="1.72" fill="#777" stroke="#1a1a1a" stroke-width="1.15"/>
<circle cx="472.00" cy="262.50" r="1.72" fill="#777" stroke="#1a1a1a" stroke-width="1.15"/>
<circle cx="471.75" cy="268.25" r="1.72" fill="#777" stroke="#1a1a1a" stroke-width="1.15"/>
<circle cx="478.00" cy="269.25" r="1.72" fill="#777" stroke="#1a1a1a" stroke-width="1.15"/>
<circle cx="485.00" cy="258.25" r="1.72" fill="#777" stroke="#1a1a1a" stroke-width="1.15"/>
<circle cx="411.90" cy="268.50" r="1.72" fill="#777" stroke="#1a1a1a" stroke-width="1.15"/>
<circle cx="406.25" cy="271.25" r="1.72" fill="#777" stroke="#1a1a1a" stroke-width="1.15"/>
<circle cx="408.00" cy="271.25" r="1.72" fill="#777" stroke="#1a1a1a" stroke-width="1.15"/>
<circle cx="410.60" cy="272.50" r="1.72" fill="#777" stroke="#1a1a1a" stroke-width="1.15"/>
<circle cx="440.00" cy="270.50" r="1.72" fill="#777" stroke="#1a1a1a" stroke-width="1.15"/>
<text x="31.25" y="392.10" font-size="7" text-anchor="middle" textLength="107.50" lengthAdjust="spacingAndGlyphs" transform="rotate(-90 31.25 390.00)">Fold-Increase in cytokine secretion</text>
<line x1="44.50" y1="426.75" x2="143.75" y2="426.75" stroke="#e2e2e2" stroke-width="0.6"/>
<line x1="44.50" y1="353.75" x2="44.50" y2="440.00" stroke="#2a2a2a" stroke-width="1.4"/>
<line x1="42.30" y1="440.00" x2="44.50" y2="440.00" stroke="#2a2a2a" stroke-width="0.9"/>
<text x="41.50" y="442.42" font-size="6.720000000000001" text-anchor="end" textLength="3.34" lengthAdjust="spacingAndGlyphs">0</text>
<line x1="42.30" y1="411.40" x2="44.50" y2="411.40" stroke="#2a2a2a" stroke-width="0.9"/>
<text x="41.50" y="413.82" font-size="6.720000000000001" text-anchor="end" textLength="3.34" lengthAdjust="spacingAndGlyphs">2</text>
<line x1="42.30" y1="382.80" x2="44.50" y2="382.80" stroke="#2a2a2a" stroke-width="0.9"/>
<text x="41.50" y="385.22" font-size="6.720000000000001" text-anchor="end" textLength="3.34" lengthAdjust="spacingAndGlyphs">4</text>
<line x1="42.30" y1="354.20" x2="44.50" y2="354.20" stroke="#2a2a2a" stroke-width="0.9"/>
<text x="41.50" y="356.62" font-size="6.720000000000001" text-anchor="end" textLength="3.34" lengthAdjust="spacingAndGlyphs">6</text>
<line x1="44.50" y1="440.00" x2="163.75" y2="440.00" stroke="#2a2a2a" stroke-width="1.4"/>
<line x1="45.00" y1="440.00" x2="45.00" y2="442.20" stroke="#2a2a2a" stroke-width="0.9"/>
<text x="45.00" y="449.22" font-size="6.16" text-anchor="middle" textLength="6.12" lengthAdjust="spacingAndGlyphs">10</text>
<line x1="68.75" y1="440.00" x2="68.75" y2="442.20" stroke="#2a2a2a" stroke-width="0.9"/>
<text x="68.75" y="449.22" font-size="6.16" text-anchor="middle" textLength="9.18" lengthAdjust="spacingAndGlyphs">100</text>
<line x1="92.50" y1="440.00" x2="92.50" y2="442.20" stroke="#2a2a2a" stroke-width="0.9"/>
<text x="92.50" y="449.22" font-size="6.16" text-anchor="middle" textLength="12.24" lengthAdjust="spacingAndGlyphs">1000</text>
<line x1="115.50" y1="440.00" x2="115.50" y2="442.20" stroke="#2a2a2a" stroke-width="0.9"/>
<text x="115.50" y="449.22" font-size="6.16" text-anchor="middle" textLength="15.29" lengthAdjust="spacingAndGlyphs">10000</text>
<line x1="139.50" y1="440.00" x2="139.50" y2="442.20" stroke="#2a2a2a" stroke-width="0.9"/>
<text x="139.50" y="449.22" font-size="6.16" text-anchor="middle" textLength="18.35" lengthAdjust="spacingAndGlyphs">100000</text>
<line x1="163.75" y1="440.00" x2="163.75" y2="442.20" stroke="#2a2a2a" stroke-width="0.9"/>
<text x="163.75" y="449.22" font-size="6.16" text-anchor="middle" textLength="21.41" lengthAdjust="spacingAndGlyphs">1000000</text>
<text x="103.75" y="458.77" font-size="7" text-anchor="middle" textLength="87.50" lengthAdjust="spacingAndGlyphs">Viral Load (RNA copies/ml)</text>
<text x="67.50" y="347.27" font-size="8.4" text-anchor="middle" textLength="32.50" lengthAdjust="spacingAndGlyphs">p=0.0030</text>
<text x="64.38" y="357.52" font-size="8.4" text-anchor="middle" textLength="26.25" lengthAdjust="spacingAndGlyphs">r=0.559</text>
<circle cx="61.25" cy="407.50" r="1.85" fill="#111"/>
<circle cx="61.25" cy="409.00" r="1.85" fill="#111"/>
<circle cx="61.25" cy="414.50" r="1.85" fill="#111"/>
<circle cx="61.25" cy="420.50" r="1.85" fill="#111"/>
<circle cx="61.25" cy="422.00" r="1.85" fill="#111"/>
<circle cx="61.25" cy="426.75" r="1.85" fill="#111"/>
<circle cx="61.25" cy="428.25" r="1.85" fill="#111"/>
<circle cx="61.25" cy="433.75" r="1.85" fill="#111"/>
<circle cx="117.00" cy="366.75" r="1.85" fill="#111"/>
<circle cx="121.25" cy="373.25" r="1.85" fill="#111"/>
<circle cx="138.00" cy="373.25" r="1.85" fill="#111"/>
<circle cx="140.00" cy="373.25" r="1.85" fill="#111"/>
<circle cx="96.25" cy="377.00" r="1.85" fill="#111"/>
<circle cx="118.00" cy="391.75" r="1.85" fill="#111"/>
<circle cx="124.50" cy="396.25" r="1.85" fill="#111"/>
<circle cx="90.50" cy="398.75" r="1.85" fill="#111"/>
<circle cx="116.50" cy="400.00" r="1.85" fill="#111"/>
<circle cx="83.00" cy="407.00" r="1.85" fill="#111"/>
<circle cx="115.00" cy="412.50" r="1.85" fill="#111"/>
<circle cx="129.50" cy="414.25" r="1.85" fill="#111"/>
<circle cx="125.50" cy="416.75" r="1.85" fill="#111"/>
<circle cx="125.50" cy="418.75" r="1.85" fill="#111"/>
<circle cx="97.50" cy="419.50" r="1.85" fill="#111"/>
<circle cx="109.50" cy="420.00" r="1.85" fill="#111"/>
<text x="197.50" y="399.00" font-size="7" text-anchor="middle" textLength="106.00" lengthAdjust="spacingAndGlyphs" transform="rotate(-90 197.50 396.90)">Fold-Increase in cytokine secretion</text>
<line x1="213.75" y1="427.50" x2="318.75" y2="427.50" stroke="#e2e2e2" stroke-width="0.6"/>
<line x1="213.75" y1="346.90" x2="213.75" y2="371.25" stroke="#2a2a2a" stroke-width="1.4"/>
<line x1="211.50" y1="350.10" x2="213.75" y2="350.10" stroke="#2a2a2a" stroke-width="0.8"/>
<text x="211.00" y="352.24" font-size="5.936" text-anchor="end" textLength="5.90" lengthAdjust="spacingAndGlyphs">10</text>
<line x1="211.50" y1="356.90" x2="213.75" y2="356.90" stroke="#2a2a2a" stroke-width="0.8"/>
<text x="211.00" y="359.04" font-size="5.936" text-anchor="end" textLength="2.95" lengthAdjust="spacingAndGlyphs">8</text>
<line x1="211.50" y1="363.70" x2="213.75" y2="363.70" stroke="#2a2a2a" stroke-width="0.8"/>
<text x="211.00" y="365.84" font-size="5.936" text-anchor="end" textLength="2.95" lengthAdjust="spacingAndGlyphs">6</text>
<line x1="211.50" y1="370.40" x2="213.75" y2="370.40" stroke="#2a2a2a" stroke-width="0.8"/>
<text x="211.00" y="372.54" font-size="5.936" text-anchor="end" textLength="2.95" lengthAdjust="spacingAndGlyphs">4</text>
<line x1="212.30" y1="371.25" x2="215.30" y2="371.25" stroke="#2a2a2a" stroke-width="0.8"/>
<line x1="213.75" y1="377.00" x2="213.75" y2="443.75" stroke="#2a2a2a" stroke-width="1.4"/>
<line x1="212.30" y1="377.00" x2="215.30" y2="377.00" stroke="#2a2a2a" stroke-width="0.8"/>
<line x1="211.50" y1="443.75" x2="213.75" y2="443.75" stroke="#2a2a2a" stroke-width="0.8"/>
<text x="210.80" y="446.17" font-size="6.720000000000001" text-anchor="end" textLength="3.34" lengthAdjust="spacingAndGlyphs">0</text>
<line x1="211.50" y1="427.15" x2="213.75" y2="427.15" stroke="#2a2a2a" stroke-width="0.8"/>
<text x="210.80" y="429.57" font-size="6.720000000000001" text-anchor="end" textLength="3.34" lengthAdjust="spacingAndGlyphs">1</text>
<line x1="211.50" y1="410.55" x2="213.75" y2="410.55" stroke="#2a2a2a" stroke-width="0.8"/>
<text x="210.80" y="412.97" font-size="6.720000000000001" text-anchor="end" textLength="3.34" lengthAdjust="spacingAndGlyphs">2</text>
<line x1="211.50" y1="393.95" x2="213.75" y2="393.95" stroke="#2a2a2a" stroke-width="0.8"/>
<text x="210.80" y="396.37" font-size="6.720000000000001" text-anchor="end" textLength="3.34" lengthAdjust="spacingAndGlyphs">3</text>
<line x1="211.50" y1="377.35" x2="213.75" y2="377.35" stroke="#2a2a2a" stroke-width="0.8"/>
<text x="210.80" y="379.77" font-size="6.720000000000001" text-anchor="end" textLength="3.34" lengthAdjust="spacingAndGlyphs">4</text>
<line x1="213.75" y1="443.30" x2="327.50" y2="443.30" stroke="#2a2a2a" stroke-width="1.4"/>
<line x1="214.50" y1="443.30" x2="214.50" y2="445.50" stroke="#2a2a2a" stroke-width="0.9"/>
<text x="214.50" y="451.72" font-size="6.16" text-anchor="middle" textLength="6.12" lengthAdjust="spacingAndGlyphs">10</text>
<line x1="237.00" y1="443.30" x2="237.00" y2="445.50" stroke="#2a2a2a" stroke-width="0.9"/>
<text x="237.00" y="451.72" font-size="6.16" text-anchor="middle" textLength="9.18" lengthAdjust="spacingAndGlyphs">100</text>
<line x1="259.50" y1="443.30" x2="259.50" y2="445.50" stroke="#2a2a2a" stroke-width="0.9"/>
<text x="259.50" y="451.72" font-size="6.16" text-anchor="middle" textLength="12.24" lengthAdjust="spacingAndGlyphs">1000</text>
<line x1="282.00" y1="443.30" x2="282.00" y2="445.50" stroke="#2a2a2a" stroke-width="0.9"/>
<text x="282.00" y="451.72" font-size="6.16" text-anchor="middle" textLength="15.29" lengthAdjust="spacingAndGlyphs">10000</text>
<line x1="304.50" y1="443.30" x2="304.50" y2="445.50" stroke="#2a2a2a" stroke-width="0.9"/>
<text x="304.50" y="451.72" font-size="6.16" text-anchor="middle" textLength="18.35" lengthAdjust="spacingAndGlyphs">100000</text>
<line x1="327.00" y1="443.30" x2="327.00" y2="445.50" stroke="#2a2a2a" stroke-width="0.9"/>
<text x="327.00" y="451.72" font-size="6.16" text-anchor="middle" textLength="21.41" lengthAdjust="spacingAndGlyphs">1000000</text>
<text x="267.50" y="459.27" font-size="7" text-anchor="middle" textLength="77.50" lengthAdjust="spacingAndGlyphs">Viral Load (RNA copies/ml)</text>
<text x="235.25" y="356.27" font-size="8.4" text-anchor="middle" textLength="25.50" lengthAdjust="spacingAndGlyphs">p=0.254</text>
<text x="231.88" y="367.27" font-size="8.4" text-anchor="middle" textLength="18.75" lengthAdjust="spacingAndGlyphs">r=0.21</text>
<circle cx="230.00" cy="383.00" r="1.85" fill="#111"/>
<circle cx="230.00" cy="398.75" r="1.85" fill="#111"/>
<circle cx="230.00" cy="410.50" r="1.85" fill="#111"/>
<circle cx="230.00" cy="415.50" r="1.85" fill="#111"/>
<circle cx="230.00" cy="418.00" r="1.85" fill="#111"/>
<circle cx="230.00" cy="420.25" r="1.85" fill="#111"/>
<circle cx="230.00" cy="422.50" r="1.85" fill="#111"/>
<circle cx="230.00" cy="426.25" r="1.85" fill="#111"/>
<circle cx="230.00" cy="433.75" r="1.85" fill="#111"/>
<circle cx="250.00" cy="397.00" r="1.85" fill="#111"/>
<circle cx="257.50" cy="393.00" r="1.85" fill="#111"/>
<circle cx="263.00" cy="385.50" r="1.85" fill="#111"/>
<circle cx="264.50" cy="425.50" r="1.85" fill="#111"/>
<circle cx="282.50" cy="348.00" r="1.85" fill="#111"/>
<circle cx="304.50" cy="367.00" r="1.85" fill="#111"/>
<circle cx="302.50" cy="391.75" r="1.85" fill="#111"/>
<circle cx="280.60" cy="399.50" r="1.85" fill="#111"/>
<circle cx="283.25" cy="405.75" r="1.85" fill="#111"/>
<circle cx="282.00" cy="408.75" r="1.85" fill="#111"/>
<circle cx="282.50" cy="407.50" r="1.85" fill="#111"/>
<circle cx="286.25" cy="413.75" r="1.85" fill="#111"/>
<circle cx="290.00" cy="407.50" r="1.85" fill="#111"/>
<circle cx="290.50" cy="422.00" r="1.85" fill="#111"/>
<circle cx="290.75" cy="424.25" r="1.85" fill="#111"/>
<circle cx="294.50" cy="420.50" r="1.85" fill="#111"/>
<text x="355.50" y="396.38" font-size="6.6" text-anchor="middle" textLength="94.00" lengthAdjust="spacing" transform="rotate(-90 355.50 394.40)">PD-L1 Proliferation Index</text>
<line x1="373.75" y1="408.60" x2="490.00" y2="408.60" stroke="#c8c8c8" stroke-width="0.8"/>
<line x1="373.40" y1="349.30" x2="373.40" y2="439.30" stroke="#2a2a2a" stroke-width="1.4"/>
<line x1="371.20" y1="350.20" x2="373.40" y2="350.20" stroke="#2a2a2a" stroke-width="0.9"/>
<text x="370.40" y="352.70" font-size="6.944000000000001" text-anchor="end" textLength="10.34" lengthAdjust="spacingAndGlyphs">100</text>
<line x1="371.20" y1="379.30" x2="373.40" y2="379.30" stroke="#2a2a2a" stroke-width="0.9"/>
<text x="370.40" y="381.80" font-size="6.944000000000001" text-anchor="end" textLength="6.90" lengthAdjust="spacingAndGlyphs">10</text>
<line x1="371.20" y1="408.60" x2="373.40" y2="408.60" stroke="#2a2a2a" stroke-width="0.9"/>
<text x="370.40" y="411.10" font-size="6.944000000000001" text-anchor="end" textLength="3.45" lengthAdjust="spacingAndGlyphs">1</text>
<line x1="371.20" y1="439.20" x2="373.40" y2="439.20" stroke="#2a2a2a" stroke-width="0.9"/>
<text x="370.40" y="441.70" font-size="6.944000000000001" text-anchor="end" textLength="8.62" lengthAdjust="spacingAndGlyphs">0.1</text>
<line x1="373.40" y1="439.30" x2="491.25" y2="439.30" stroke="#2a2a2a" stroke-width="1.4"/>
<line x1="376.75" y1="439.30" x2="376.75" y2="441.50" stroke="#2a2a2a" stroke-width="0.9"/>
<line x1="398.00" y1="439.30" x2="398.00" y2="441.50" stroke="#2a2a2a" stroke-width="0.9"/>
<line x1="419.90" y1="439.30" x2="419.90" y2="441.50" stroke="#2a2a2a" stroke-width="0.9"/>
<line x1="443.00" y1="439.30" x2="443.00" y2="441.50" stroke="#2a2a2a" stroke-width="0.9"/>
<line x1="465.50" y1="439.30" x2="465.50" y2="441.50" stroke="#2a2a2a" stroke-width="0.9"/>
<line x1="488.00" y1="439.30" x2="488.00" y2="441.50" stroke="#2a2a2a" stroke-width="0.9"/>
<text x="376.25" y="449.78" font-size="6.6" text-anchor="middle">10<tspan font-size="4.4" dy="-2.6">1</tspan></text>
<text x="397.50" y="449.78" font-size="6.6" text-anchor="middle">10<tspan font-size="4.4" dy="-2.6">2</tspan></text>
<text x="419.40" y="449.78" font-size="6.6" text-anchor="middle">10<tspan font-size="4.4" dy="-2.6">3</tspan></text>
<text x="442.50" y="449.78" font-size="6.6" text-anchor="middle">10<tspan font-size="4.4" dy="-2.6">4</tspan></text>
<text x="465.00" y="449.78" font-size="6.6" text-anchor="middle">10<tspan font-size="4.4" dy="-2.6">5</tspan></text>
<text x="487.50" y="449.78" font-size="6.6" text-anchor="middle">10<tspan font-size="4.4" dy="-2.6">6</tspan></text>
<text x="436.88" y="460.02" font-size="7" text-anchor="middle" textLength="76.25" lengthAdjust="spacingAndGlyphs">viral load (RNA copies/mL)</text>
<text x="397.12" y="351.36" font-size="7.4" text-anchor="middle" textLength="28.25" lengthAdjust="spacingAndGlyphs">p=0.0016</text>
<text x="392.50" y="362.36" font-size="7.4" text-anchor="middle" textLength="19.00" lengthAdjust="spacingAndGlyphs">r=0.46</text>
<circle cx="391.00" cy="401.25" r="1.72" fill="#777" stroke="#1a1a1a" stroke-width="1.15"/>
<circle cx="391.00" cy="403.25" r="1.72" fill="#777" stroke="#1a1a1a" stroke-width="1.15"/>
<circle cx="391.00" cy="405.50" r="1.72" fill="#777" stroke="#1a1a1a" stroke-width="1.15"/>
<circle cx="391.00" cy="408.00" r="1.72" fill="#777" stroke="#1a1a1a" stroke-width="1.15"/>
<circle cx="391.00" cy="410.50" r="1.72" fill="#777" stroke="#1a1a1a" stroke-width="1.15"/>
<circle cx="391.00" cy="413.00" r="1.72" fill="#777" stroke="#1a1a1a" stroke-width="1.15"/>
<circle cx="391.00" cy="415.00" r="1.72" fill="#777" stroke="#1a1a1a" stroke-width="1.15"/>
<circle cx="403.75" cy="400.50" r="1.72" fill="#777" stroke="#1a1a1a" stroke-width="1.15"/>
<circle cx="408.75" cy="405.50" r="1.72" fill="#777" stroke="#1a1a1a" stroke-width="1.15"/>
<circle cx="403.00" cy="413.00" r="1.72" fill="#777" stroke="#1a1a1a" stroke-width="1.15"/>
<circle cx="425.00" cy="400.50" r="1.72" fill="#777" stroke="#1a1a1a" stroke-width="1.15"/>
<circle cx="427.00" cy="406.25" r="1.72" fill="#777" stroke="#1a1a1a" stroke-width="1.15"/>
<circle cx="433.00" cy="402.50" r="1.72" fill="#777" stroke="#1a1a1a" stroke-width="1.15"/>
<circle cx="434.50" cy="399.50" r="1.72" fill="#777" stroke="#1a1a1a" stroke-width="1.15"/>
<circle cx="436.25" cy="397.00" r="1.72" fill="#777" stroke="#1a1a1a" stroke-width="1.15"/>
<circle cx="438.25" cy="364.25" r="1.72" fill="#777" stroke="#1a1a1a" stroke-width="1.15"/>
<circle cx="441.25" cy="399.50" r="1.72" fill="#777" stroke="#1a1a1a" stroke-width="1.15"/>
<circle cx="443.75" cy="401.25" r="1.72" fill="#777" stroke="#1a1a1a" stroke-width="1.15"/>
<circle cx="441.25" cy="410.00" r="1.72" fill="#777" stroke="#1a1a1a" stroke-width="1.15"/>
<circle cx="442.00" cy="413.00" r="1.72" fill="#777" stroke="#1a1a1a" stroke-width="1.15"/>
<circle cx="446.25" cy="380.50" r="1.72" fill="#777" stroke="#1a1a1a" stroke-width="1.15"/>
<circle cx="446.25" cy="408.25" r="1.72" fill="#777" stroke="#1a1a1a" stroke-width="1.15"/>
<circle cx="447.00" cy="414.50" r="1.72" fill="#777" stroke="#1a1a1a" stroke-width="1.15"/>
<circle cx="449.25" cy="415.00" r="1.72" fill="#777" stroke="#1a1a1a" stroke-width="1.15"/>
<circle cx="450.75" cy="391.25" r="1.72" fill="#777" stroke="#1a1a1a" stroke-width="1.15"/>
<circle cx="458.25" cy="403.25" r="1.72" fill="#777" stroke="#1a1a1a" stroke-width="1.15"/>
<circle cx="458.75" cy="405.75" r="1.72" fill="#777" stroke="#1a1a1a" stroke-width="1.15"/>
<circle cx="462.00" cy="392.00" r="1.72" fill="#777" stroke="#1a1a1a" stroke-width="1.15"/>
<circle cx="462.00" cy="400.50" r="1.72" fill="#777" stroke="#1a1a1a" stroke-width="1.15"/>
<circle cx="463.00" cy="402.00" r="1.72" fill="#777" stroke="#1a1a1a" stroke-width="1.15"/>
<circle cx="465.75" cy="384.50" r="1.72" fill="#777" stroke="#1a1a1a" stroke-width="1.15"/>
<circle cx="465.75" cy="407.00" r="1.72" fill="#777" stroke="#1a1a1a" stroke-width="1.15"/>
<circle cx="466.25" cy="416.25" r="1.72" fill="#777" stroke="#1a1a1a" stroke-width="1.15"/>
<circle cx="475.00" cy="393.00" r="1.72" fill="#777" stroke="#1a1a1a" stroke-width="1.15"/>
<circle cx="475.00" cy="397.50" r="1.72" fill="#777" stroke="#1a1a1a" stroke-width="1.15"/>
<circle cx="476.25" cy="372.00" r="1.72" fill="#777" stroke="#1a1a1a" stroke-width="1.15"/>
<circle cx="482.50" cy="373.25" r="1.72" fill="#777" stroke="#1a1a1a" stroke-width="1.15"/>
<text x="12.90" y="546.60" font-size="9.5" text-anchor="middle" textLength="90.00" lengthAdjust="spacingAndGlyphs" transform="rotate(-90 12.90 543.75)">PD-1 expression (MFI)</text>
<line x1="42.50" y1="505.00" x2="42.50" y2="596.25" stroke="#2a2a2a" stroke-width="1.4"/>
<line x1="40.30" y1="596.25" x2="42.50" y2="596.25" stroke="#2a2a2a" stroke-width="0.9"/>
<text x="39.50" y="599.27" font-size="8.4" text-anchor="end" textLength="4.17" lengthAdjust="spacingAndGlyphs">0</text>
<line x1="40.30" y1="570.00" x2="42.50" y2="570.00" stroke="#2a2a2a" stroke-width="0.9"/>
<text x="39.50" y="573.02" font-size="8.4" text-anchor="end" textLength="18.77" lengthAdjust="spacingAndGlyphs">1,000</text>
<line x1="40.30" y1="543.75" x2="42.50" y2="543.75" stroke="#2a2a2a" stroke-width="0.9"/>
<text x="39.50" y="546.77" font-size="8.4" text-anchor="end" textLength="18.77" lengthAdjust="spacingAndGlyphs">2,000</text>
<line x1="40.30" y1="518.25" x2="42.50" y2="518.25" stroke="#2a2a2a" stroke-width="0.9"/>
<text x="39.50" y="521.27" font-size="8.4" text-anchor="end" textLength="18.77" lengthAdjust="spacingAndGlyphs">3,000</text>
<line x1="42.50" y1="596.25" x2="178.00" y2="596.25" stroke="#2a2a2a" stroke-width="1.4"/>
<line x1="55.50" y1="596.25" x2="55.50" y2="598.45" stroke="#2a2a2a" stroke-width="0.9"/>
<line x1="82.00" y1="596.25" x2="82.00" y2="598.45" stroke="#2a2a2a" stroke-width="0.9"/>
<line x1="109.50" y1="596.25" x2="109.50" y2="598.45" stroke="#2a2a2a" stroke-width="0.9"/>
<line x1="136.00" y1="596.25" x2="136.00" y2="598.45" stroke="#2a2a2a" stroke-width="0.9"/>
<line x1="164.00" y1="596.25" x2="164.00" y2="598.45" stroke="#2a2a2a" stroke-width="0.9"/>
<text x="55.50" y="605.52" font-size="8.4" text-anchor="middle" textLength="10.42" lengthAdjust="spacingAndGlyphs">EC</text>
<text x="81.50" y="605.52" font-size="8.4" text-anchor="middle" textLength="10.42" lengthAdjust="spacingAndGlyphs">VC</text>
<text x="109.50" y="605.52" font-size="8.4" text-anchor="middle" textLength="10.42" lengthAdjust="spacingAndGlyphs">CP</text>
<text x="135.95" y="605.49" font-size="8.3" text-anchor="middle" textLength="25.30" lengthAdjust="spacingAndGlyphs">ACUTE</text>
<text x="163.30" y="605.49" font-size="8.3" text-anchor="middle" textLength="20.40" lengthAdjust="spacingAndGlyphs">ARTC</text>
<text x="132.38" y="591.34" font-size="7.6" text-anchor="middle" textLength="32.25" lengthAdjust="spacingAndGlyphs">p=&lt;0.0001</text>
<line x1="86.25" y1="486.25" x2="122.50" y2="486.25" stroke="#666" stroke-width="0.8"/>
<text x="106.00" y="487.54" font-size="7.6" text-anchor="middle" fill="#444" style="stroke:#444">**</text>
<line x1="137.50" y1="489.50" x2="165.00" y2="489.50" stroke="#666" stroke-width="0.8"/>
<text x="152.00" y="489.54" font-size="7.6" text-anchor="middle" fill="#444" style="stroke:#444">***</text>
<line x1="57.00" y1="493.75" x2="137.00" y2="493.75" stroke="#666" stroke-width="0.8"/>
<text x="97.50" y="495.34" font-size="7.6" text-anchor="middle" fill="#444" style="stroke:#444">***</text>
<line x1="111.25" y1="500.00" x2="137.00" y2="500.00" stroke="#666" stroke-width="0.8"/>
<text x="125.00" y="500.84" font-size="7.6" text-anchor="middle" fill="#444" style="stroke:#444">*</text>
<line x1="111.25" y1="505.75" x2="166.25" y2="505.75" stroke="#666" stroke-width="0.8"/>
<text x="136.50" y="506.34" font-size="7.6" text-anchor="middle" fill="#444" style="stroke:#444">***</text>
<line x1="57.00" y1="508.25" x2="106.25" y2="508.25" stroke="#666" stroke-width="0.8"/>
<text x="82.00" y="508.84" font-size="7.6" text-anchor="middle" fill="#444" style="stroke:#444">***</text>
<line x1="57.00" y1="538.75" x2="82.00" y2="538.75" stroke="#666" stroke-width="0.8"/>
<text x="68.75" y="538.84" font-size="7.6" text-anchor="middle" fill="#444" style="stroke:#444">**</text>
<rect x="53.70" y="560.20" width="3.6" height="3.6" fill="none" stroke="#222" stroke-width="0.95"/>
<rect x="53.70" y="569.60" width="3.6" height="3.6" fill="none" stroke="#222" stroke-width="0.95"/>
<rect x="60.80" y="571.30" width="3.6" height="3.6" fill="none" stroke="#222" stroke-width="0.95"/>
<rect x="51.90" y="572.20" width="3.6" height="3.6" fill="none" stroke="#222" stroke-width="0.95"/>
<rect x="55.50" y="573.10" width="3.6" height="3.6" fill="none" stroke="#222" stroke-width="0.95"/>
<rect x="48.40" y="574.90" width="3.6" height="3.6" fill="none" stroke="#222" stroke-width="0.95"/>
<rect x="53.20" y="574.90" width="3.6" height="3.6" fill="none" stroke="#222" stroke-width="0.95"/>
<rect x="59.50" y="575.80" width="3.6" height="3.6" fill="none" stroke="#222" stroke-width="0.95"/>
<rect x="48.80" y="580.60" width="3.6" height="3.6" fill="none" stroke="#222" stroke-width="0.95"/>
<rect x="53.70" y="581.50" width="3.6" height="3.6" fill="none" stroke="#222" stroke-width="0.95"/>
<rect x="59.50" y="578.90" width="3.6" height="3.6" fill="none" stroke="#222" stroke-width="0.95"/>
<rect x="53.70" y="588.20" width="3.6" height="3.6" fill="none" stroke="#222" stroke-width="0.95"/>
<rect x="59.50" y="586.40" width="3.6" height="3.6" fill="none" stroke="#222" stroke-width="0.95"/>
<line x1="44.50" y1="576.75" x2="70.50" y2="576.75" stroke="#111" stroke-width="1.6"/>
<polygon points="77.30,546.95 79.25,550.75 75.35,550.75" fill="none" stroke="#222" stroke-width="0.95"/>
<polygon points="77.30,549.65 79.25,553.46 75.35,553.46" fill="none" stroke="#222" stroke-width="0.95"/>
<polygon points="88.00,549.35 89.95,553.15 86.05,553.15" fill="none" stroke="#222" stroke-width="0.95"/>
<polygon points="82.80,552.65 84.75,556.46 80.85,556.46" fill="none" stroke="#222" stroke-width="0.95"/>
<polygon points="82.80,559.85 84.75,563.65 80.85,563.65" fill="none" stroke="#222" stroke-width="0.95"/>
<polygon points="82.80,571.15 84.75,574.96 80.85,574.96" fill="none" stroke="#222" stroke-width="0.95"/>
<line x1="69.40" y1="557.50" x2="96.10" y2="557.50" stroke="#111" stroke-width="1.6"/>
<polygon points="109.90,515.91 111.80,512.19 108.00,512.19" fill="none" stroke="#222" stroke-width="0.95"/>
<polygon points="104.40,520.41 106.30,516.69 102.50,516.69" fill="none" stroke="#222" stroke-width="0.95"/>
<polygon points="109.90,523.31 111.80,519.59 108.00,519.59" fill="none" stroke="#222" stroke-width="0.95"/>
<polygon points="109.90,537.61 111.80,533.89 108.00,533.89" fill="none" stroke="#222" stroke-width="0.95"/>
<polygon points="114.90,536.91 116.80,533.19 113.00,533.19" fill="none" stroke="#222" stroke-width="0.95"/>
<polygon points="104.20,542.71 106.10,538.99 102.30,538.99" fill="none" stroke="#222" stroke-width="0.95"/>
<polygon points="109.90,543.91 111.80,540.19 108.00,540.19" fill="none" stroke="#222" stroke-width="0.95"/>
<polygon points="114.90,542.71 116.80,538.99 113.00,538.99" fill="none" stroke="#222" stroke-width="0.95"/>
<polygon points="112.60,551.11 114.50,547.39 110.70,547.39" fill="none" stroke="#222" stroke-width="0.95"/>
<polygon points="104.20,554.71 106.10,550.99 102.30,550.99" fill="none" stroke="#222" stroke-width="0.95"/>
<polygon points="109.90,554.71 111.80,550.99 108.00,550.99" fill="none" stroke="#222" stroke-width="0.95"/>
<polygon points="114.90,554.71 116.80,550.99 113.00,550.99" fill="none" stroke="#222" stroke-width="0.95"/>
<polygon points="114.90,557.21 116.80,553.49 113.00,553.49" fill="none" stroke="#222" stroke-width="0.95"/>
<polygon points="104.20,559.31 106.10,555.59 102.30,555.59" fill="none" stroke="#222" stroke-width="0.95"/>
<polygon points="109.90,561.01 111.80,557.29 108.00,557.29" fill="none" stroke="#222" stroke-width="0.95"/>
<polygon points="104.20,563.71 106.10,559.99 102.30,559.99" fill="none" stroke="#222" stroke-width="0.95"/>
<polygon points="109.90,566.81 111.80,563.09 108.00,563.09" fill="none" stroke="#222" stroke-width="0.95"/>
<polygon points="114.90,566.61 116.80,562.89 113.00,562.89" fill="none" stroke="#222" stroke-width="0.95"/>
<line x1="97.10" y1="545.80" x2="123.50" y2="545.80" stroke="#111" stroke-width="1.6"/>
<polygon points="136.70,507.70 138.60,509.60 136.70,511.50 134.80,509.60" fill="none" stroke="#222" stroke-width="0.95"/>
<polygon points="131.30,523.10 133.20,525.00 131.30,526.90 129.40,525.00" fill="none" stroke="#222" stroke-width="0.95"/>
<polygon points="136.70,525.20 138.60,527.10 136.70,529.00 134.80,527.10" fill="none" stroke="#222" stroke-width="0.95"/>
<polygon points="142.10,523.10 144.00,525.00 142.10,526.90 140.20,525.00" fill="none" stroke="#222" stroke-width="0.95"/>
<polygon points="136.70,553.20 138.60,555.10 136.70,557.00 134.80,555.10" fill="none" stroke="#222" stroke-width="0.95"/>
<line x1="123.20" y1="528.20" x2="149.80" y2="528.20" stroke="#111" stroke-width="1.6"/>
<circle cx="169.70" cy="556.60" r="2.0" fill="none" stroke="#222" stroke-width="0.95"/>
<circle cx="164.30" cy="558.80" r="2.0" fill="none" stroke="#222" stroke-width="0.95"/>
<circle cx="158.50" cy="565.00" r="2.0" fill="none" stroke="#222" stroke-width="0.95"/>
<circle cx="164.30" cy="566.30" r="2.0" fill="none" stroke="#222" stroke-width="0.95"/>
<circle cx="169.70" cy="566.30" r="2.0" fill="none" stroke="#222" stroke-width="0.95"/>
<circle cx="164.30" cy="571.80" r="2.0" fill="none" stroke="#222" stroke-width="0.95"/>
<circle cx="169.70" cy="572.60" r="2.0" fill="none" stroke="#222" stroke-width="0.95"/>
<circle cx="158.50" cy="574.70" r="2.0" fill="none" stroke="#222" stroke-width="0.95"/>
<circle cx="161.40" cy="578.40" r="2.0" fill="none" stroke="#222" stroke-width="0.95"/>
<circle cx="164.30" cy="577.60" r="2.0" fill="none" stroke="#222" stroke-width="0.95"/>
<circle cx="158.50" cy="582.00" r="2.0" fill="none" stroke="#222" stroke-width="0.95"/>
<circle cx="164.30" cy="584.20" r="2.0" fill="none" stroke="#222" stroke-width="0.95"/>
<circle cx="167.20" cy="582.30" r="2.0" fill="none" stroke="#222" stroke-width="0.95"/>
<circle cx="169.70" cy="583.70" r="2.0" fill="none" stroke="#222" stroke-width="0.95"/>
<line x1="151.20" y1="572.10" x2="178.10" y2="572.10" stroke="#111" stroke-width="1.6"/>
<text x="188.75" y="552.40" font-size="8" text-anchor="middle" textLength="80.00" lengthAdjust="spacingAndGlyphs" transform="rotate(-90 188.75 550.00)">PD-1 expression (MFI)</text>
<line x1="215.50" y1="511.25" x2="215.50" y2="592.50" stroke="#2a2a2a" stroke-width="1.4"/>
<line x1="213.30" y1="592.00" x2="215.50" y2="592.00" stroke="#2a2a2a" stroke-width="0.9"/>
<text x="212.50" y="594.62" font-size="7.280000000000001" text-anchor="end" textLength="3.62" lengthAdjust="spacingAndGlyphs">0</text>
<line x1="213.30" y1="568.75" x2="215.50" y2="568.75" stroke="#2a2a2a" stroke-width="0.9"/>
<text x="212.50" y="571.37" font-size="7.280000000000001" text-anchor="end" textLength="16.27" lengthAdjust="spacingAndGlyphs">1,000</text>
<line x1="213.30" y1="545.50" x2="215.50" y2="545.50" stroke="#2a2a2a" stroke-width="0.9"/>
<text x="212.50" y="548.12" font-size="7.280000000000001" text-anchor="end" textLength="16.27" lengthAdjust="spacingAndGlyphs">2,000</text>
<line x1="213.30" y1="522.50" x2="215.50" y2="522.50" stroke="#2a2a2a" stroke-width="0.9"/>
<text x="212.50" y="525.12" font-size="7.280000000000001" text-anchor="end" textLength="16.27" lengthAdjust="spacingAndGlyphs">3,000</text>
<line x1="215.50" y1="592.50" x2="342.50" y2="592.50" stroke="#2a2a2a" stroke-width="1.4"/>
<line x1="239.10" y1="592.50" x2="239.10" y2="594.70" stroke="#2a2a2a" stroke-width="0.9"/>
<line x1="267.80" y1="592.50" x2="267.80" y2="594.70" stroke="#2a2a2a" stroke-width="0.9"/>
<line x1="291.30" y1="592.50" x2="291.30" y2="594.70" stroke="#2a2a2a" stroke-width="0.9"/>
<line x1="317.30" y1="592.50" x2="317.30" y2="594.70" stroke="#2a2a2a" stroke-width="0.9"/>
<line x1="341.80" y1="592.50" x2="341.80" y2="594.70" stroke="#2a2a2a" stroke-width="0.9"/>
<text x="216.50" y="605.94" font-size="6.5" text-anchor="middle">10<tspan font-size="4.4" dy="-2.6">1</tspan></text>
<text x="238.30" y="605.94" font-size="6.5" text-anchor="middle">10<tspan font-size="4.4" dy="-2.6">2</tspan></text>
<text x="267.00" y="605.94" font-size="6.5" text-anchor="middle">10<tspan font-size="4.4" dy="-2.6">3</tspan></text>
<text x="290.50" y="605.94" font-size="6.5" text-anchor="middle">10<tspan font-size="4.4" dy="-2.6">4</tspan></text>
<text x="316.50" y="605.94" font-size="6.5" text-anchor="middle">10<tspan font-size="4.4" dy="-2.6">5</tspan></text>
<text x="341.00" y="605.94" font-size="6.5" text-anchor="middle">10<tspan font-size="4.4" dy="-2.6">6</tspan></text>
<text x="281.88" y="616.72" font-size="7" text-anchor="middle" textLength="81.25" lengthAdjust="spacingAndGlyphs">viral load (RNA copies/mL)</text>
<text x="255.00" y="509.93" font-size="7.3" text-anchor="middle" textLength="32.50" lengthAdjust="spacingAndGlyphs">p=&lt;0.0001</text>
<text x="250.38" y="517.63" font-size="7.3" text-anchor="middle" textLength="23.25" lengthAdjust="spacingAndGlyphs">r=0.785</text>
<rect x="231.95" y="559.45" width="3.6" height="3.6" fill="none" stroke="#222" stroke-width="0.95"/>
<rect x="231.95" y="568.70" width="3.6" height="3.6" fill="none" stroke="#222" stroke-width="0.95"/>
<rect x="231.95" y="572.45" width="3.6" height="3.6" fill="none" stroke="#222" stroke-width="0.95"/>
<rect x="231.95" y="576.20" width="3.6" height="3.6" fill="none" stroke="#222" stroke-width="0.95"/>
<rect x="231.95" y="579.45" width="3.6" height="3.6" fill="none" stroke="#222" stroke-width="0.95"/>
<rect x="231.95" y="582.70" width="3.6" height="3.6" fill="none" stroke="#222" stroke-width="0.95"/>
<rect x="231.95" y="585.70" width="3.6" height="3.6" fill="none" stroke="#222" stroke-width="0.95"/>
<polygon points="235.50,549.33 237.30,552.87 233.70,552.87" fill="none" stroke="#222" stroke-width="0.95"/>
<polygon points="258.00,553.58 259.80,557.12 256.20,557.12" fill="none" stroke="#222" stroke-width="0.95"/>
<polygon points="271.40,551.08 273.20,554.62 269.60,554.62" fill="none" stroke="#222" stroke-width="0.95"/>
<polygon points="274.60,551.08 276.40,554.62 272.80,554.62" fill="none" stroke="#222" stroke-width="0.95"/>
<polygon points="270.50,570.08 272.30,573.62 268.70,573.62" fill="none" stroke="#222" stroke-width="0.95"/>
<polygon points="275.50,539.38 277.25,535.92 273.75,535.92" fill="none" stroke="#222" stroke-width="0.95"/>
<polygon points="278.00,546.38 279.75,542.92 276.25,542.92" fill="none" stroke="#222" stroke-width="0.95"/>
<polygon points="279.50,561.38 281.25,557.92 277.75,557.92" fill="none" stroke="#222" stroke-width="0.95"/>
<polygon points="283.75,560.62 285.50,557.17 282.00,557.17" fill="none" stroke="#222" stroke-width="0.95"/>
<polygon points="287.00,554.88 288.75,551.42 285.25,551.42" fill="none" stroke="#222" stroke-width="0.95"/>
<polygon points="296.25,552.38 298.00,548.92 294.50,548.92" fill="none" stroke="#222" stroke-width="0.95"/>
<polygon points="300.00,555.62 301.75,552.17 298.25,552.17" fill="none" stroke="#222" stroke-width="0.95"/>
<polygon points="300.00,563.12 301.75,559.67 298.25,559.67" fill="none" stroke="#222" stroke-width="0.95"/>
<polygon points="303.75,566.38 305.50,562.92 302.00,562.92" fill="none" stroke="#222" stroke-width="0.95"/>
<polygon points="302.50,544.38 304.25,540.92 300.75,540.92" fill="none" stroke="#222" stroke-width="0.95"/>
<polygon points="303.00,546.38 304.75,542.92 301.25,542.92" fill="none" stroke="#222" stroke-width="0.95"/>
<polygon points="304.50,557.38 306.25,553.92 302.75,553.92" fill="none" stroke="#222" stroke-width="0.95"/>
<polygon points="309.50,555.62 311.25,552.17 307.75,552.17" fill="none" stroke="#222" stroke-width="0.95"/>
<polygon points="312.50,540.62 314.25,537.17 310.75,537.17" fill="none" stroke="#222" stroke-width="0.95"/>
<polygon points="313.75,544.38 315.50,540.92 312.00,540.92" fill="none" stroke="#222" stroke-width="0.95"/>
<polygon points="323.00,565.62 324.75,562.17 321.25,562.17" fill="none" stroke="#222" stroke-width="0.95"/>
<polygon points="301.25,524.88 303.00,521.42 299.50,521.42" fill="none" stroke="#222" stroke-width="0.95"/>
<polygon points="304.50,520.62 306.25,517.17 302.75,517.17" fill="none" stroke="#222" stroke-width="0.95"/>
<polygon points="303.75,526.88 305.50,523.42 302.00,523.42" fill="none" stroke="#222" stroke-width="0.95"/>
<polygon points="305.50,530.62 307.25,527.17 303.75,527.17" fill="none" stroke="#222" stroke-width="0.95"/>
<polygon points="311.80,513.15 313.75,515.10 311.80,517.05 309.85,515.10" fill="none" stroke="#222" stroke-width="0.95"/>
<polygon points="323.50,527.55 325.45,529.50 323.50,531.45 321.55,529.50" fill="none" stroke="#222" stroke-width="0.95"/>
<polygon points="326.20,528.95 328.15,530.90 326.20,532.85 324.25,530.90" fill="none" stroke="#222" stroke-width="0.95"/>
<polygon points="324.20,554.05 326.15,556.00 324.20,557.95 322.25,556.00" fill="none" stroke="#222" stroke-width="0.95"/>
<text x="356.25" y="546.30" font-size="8.5" text-anchor="middle" textLength="85.00" lengthAdjust="spacingAndGlyphs" transform="rotate(-90 356.25 543.75)">PD-1 expression (MFI)</text>
<line x1="381.25" y1="500.00" x2="381.25" y2="590.00" stroke="#2a2a2a" stroke-width="1.4"/>
<line x1="379.05" y1="590.00" x2="381.25" y2="590.00" stroke="#2a2a2a" stroke-width="0.9"/>
<text x="378.25" y="592.46" font-size="6.832" text-anchor="end" textLength="3.39" lengthAdjust="spacingAndGlyphs">0</text>
<line x1="379.05" y1="564.50" x2="381.25" y2="564.50" stroke="#2a2a2a" stroke-width="0.9"/>
<text x="378.25" y="566.96" font-size="6.832" text-anchor="end" textLength="15.27" lengthAdjust="spacingAndGlyphs">1,000</text>
<line x1="379.05" y1="538.75" x2="381.25" y2="538.75" stroke="#2a2a2a" stroke-width="0.9"/>
<text x="378.25" y="541.21" font-size="6.832" text-anchor="end" textLength="15.27" lengthAdjust="spacingAndGlyphs">2,000</text>
<line x1="379.05" y1="513.25" x2="381.25" y2="513.25" stroke="#2a2a2a" stroke-width="0.9"/>
<text x="378.25" y="515.71" font-size="6.832" text-anchor="end" textLength="15.27" lengthAdjust="spacingAndGlyphs">3,000</text>
<line x1="381.25" y1="590.00" x2="506.25" y2="590.00" stroke="#2a2a2a" stroke-width="1.4"/>
<line x1="382.50" y1="590.00" x2="382.50" y2="592.20" stroke="#2a2a2a" stroke-width="0.9"/>
<text x="382.50" y="600.32" font-size="7.840000000000001" text-anchor="middle" textLength="3.89" lengthAdjust="spacingAndGlyphs">0</text>
<line x1="407.50" y1="590.00" x2="407.50" y2="592.20" stroke="#2a2a2a" stroke-width="0.9"/>
<text x="407.50" y="600.32" font-size="7.840000000000001" text-anchor="middle" textLength="11.68" lengthAdjust="spacingAndGlyphs">500</text>
<line x1="431.25" y1="590.00" x2="431.25" y2="592.20" stroke="#2a2a2a" stroke-width="0.9"/>
<text x="431.25" y="600.32" font-size="7.840000000000001" text-anchor="middle" textLength="17.52" lengthAdjust="spacingAndGlyphs">1,000</text>
<line x1="456.25" y1="590.00" x2="456.25" y2="592.20" stroke="#2a2a2a" stroke-width="0.9"/>
<text x="456.25" y="600.32" font-size="7.840000000000001" text-anchor="middle" textLength="17.52" lengthAdjust="spacingAndGlyphs">1,500</text>
<line x1="481.25" y1="590.00" x2="481.25" y2="592.20" stroke="#2a2a2a" stroke-width="0.9"/>
<text x="481.25" y="600.32" font-size="7.840000000000001" text-anchor="middle" textLength="17.52" lengthAdjust="spacingAndGlyphs">2,000</text>
<line x1="506.25" y1="590.00" x2="506.25" y2="592.20" stroke="#2a2a2a" stroke-width="0.9"/>
<text x="506.25" y="600.32" font-size="7.840000000000001" text-anchor="middle" textLength="17.52" lengthAdjust="spacingAndGlyphs">2,500</text>
<text x="454.05" y="616.18" font-size="8" text-anchor="middle" textLength="78.90" lengthAdjust="spacingAndGlyphs">CD4 T cell count (cell/mm³)</text>
<text x="473.25" y="505.43" font-size="7.3" text-anchor="middle" textLength="32.50" lengthAdjust="spacingAndGlyphs">p=&lt;0.0001</text>
<text x="467.50" y="512.63" font-size="7.3" text-anchor="middle" textLength="21.00" lengthAdjust="spacingAndGlyphs">r=-0.61</text>
<polygon points="397.00,510.62 398.75,507.18 395.25,507.18" fill="none" stroke="#222" stroke-width="0.95"/>
<polygon points="393.00,517.62 394.75,514.17 391.25,514.17" fill="none" stroke="#222" stroke-width="0.95"/>
<polygon points="414.50,515.12 416.25,511.68 412.75,511.68" fill="none" stroke="#222" stroke-width="0.95"/>
<polygon points="395.00,532.38 396.75,528.92 393.25,528.92" fill="none" stroke="#222" stroke-width="0.95"/>
<polygon points="398.75,536.88 400.50,533.42 397.00,533.42" fill="none" stroke="#222" stroke-width="0.95"/>
<polygon points="401.25,538.12 403.00,534.67 399.50,534.67" fill="none" stroke="#222" stroke-width="0.95"/>
<polygon points="408.75,536.88 410.50,533.42 407.00,533.42" fill="none" stroke="#222" stroke-width="0.95"/>
<polygon points="390.00,539.38 391.75,535.92 388.25,535.92" fill="none" stroke="#222" stroke-width="0.95"/>
<polygon points="420.50,531.38 422.25,527.92 418.75,527.92" fill="none" stroke="#222" stroke-width="0.95"/>
<polygon points="415.75,545.12 417.50,541.67 414.00,541.67" fill="none" stroke="#222" stroke-width="0.95"/>
<polygon points="412.50,549.38 414.25,545.92 410.75,545.92" fill="none" stroke="#222" stroke-width="0.95"/>
<polygon points="396.25,551.38 398.00,547.92 394.50,547.92" fill="none" stroke="#222" stroke-width="0.95"/>
<polygon points="399.50,552.62 401.25,549.17 397.75,549.17" fill="none" stroke="#222" stroke-width="0.95"/>
<polygon points="408.00,554.88 409.75,551.42 406.25,551.42" fill="none" stroke="#222" stroke-width="0.95"/>
<polygon points="409.50,561.38 411.25,557.92 407.75,557.92" fill="none" stroke="#222" stroke-width="0.95"/>
<polygon points="402.50,560.62 404.25,557.17 400.75,557.17" fill="none" stroke="#222" stroke-width="0.95"/>
<polygon points="409.90,502.55 411.85,504.50 409.90,506.45 407.95,504.50" fill="none" stroke="#222" stroke-width="0.95"/>
<polygon points="395.50,517.95 397.45,519.90 395.50,521.85 393.55,519.90" fill="none" stroke="#222" stroke-width="0.95"/>
<polygon points="398.00,517.65 399.95,519.60 398.00,521.55 396.05,519.60" fill="none" stroke="#222" stroke-width="0.95"/>
<polygon points="404.50,519.95 406.45,521.90 404.50,523.85 402.55,521.90" fill="none" stroke="#222" stroke-width="0.95"/>
<circle cx="396.00" cy="548.10" r="1.9" fill="none" stroke="#222" stroke-width="0.95"/>
<circle cx="398.00" cy="547.60" r="1.9" fill="none" stroke="#222" stroke-width="0.95"/>
<circle cx="399.80" cy="549.60" r="1.9" fill="none" stroke="#222" stroke-width="0.95"/>
<circle cx="412.50" cy="556.25" r="1.9" fill="none" stroke="#222" stroke-width="0.95"/>
<polygon points="407.00,544.33 408.80,547.87 405.20,547.87" fill="none" stroke="#222" stroke-width="0.95"/>
<polygon points="428.75,541.83 430.55,545.37 426.95,545.37" fill="none" stroke="#222" stroke-width="0.95"/>
<polygon points="437.00,547.33 438.80,550.87 435.20,550.87" fill="none" stroke="#222" stroke-width="0.95"/>
<polygon points="435.75,545.08 437.55,548.62 433.95,548.62" fill="none" stroke="#222" stroke-width="0.95"/>
<rect x="421.20" y="554.45" width="3.6" height="3.6" fill="none" stroke="#222" stroke-width="0.95"/>
<rect x="405.70" y="570.70" width="3.6" height="3.6" fill="none" stroke="#222" stroke-width="0.95"/>
<rect x="411.95" y="572.70" width="3.6" height="3.6" fill="none" stroke="#222" stroke-width="0.95"/>
<rect x="409.45" y="575.70" width="3.6" height="3.6" fill="none" stroke="#222" stroke-width="0.95"/>
<rect x="419.45" y="567.70" width="3.6" height="3.6" fill="none" stroke="#222" stroke-width="0.95"/>
<rect x="421.95" y="564.45" width="3.6" height="3.6" fill="none" stroke="#222" stroke-width="0.95"/>
<rect x="424.45" y="569.45" width="3.6" height="3.6" fill="none" stroke="#222" stroke-width="0.95"/>
<rect x="428.20" y="566.20" width="3.6" height="3.6" fill="none" stroke="#222" stroke-width="0.95"/>
<rect x="429.45" y="570.20" width="3.6" height="3.6" fill="none" stroke="#222" stroke-width="0.95"/>
<rect x="431.20" y="570.70" width="3.6" height="3.6" fill="none" stroke="#222" stroke-width="0.95"/>
<rect x="435.70" y="566.95" width="3.6" height="3.6" fill="none" stroke="#222" stroke-width="0.95"/>
<rect x="420.20" y="580.20" width="3.6" height="3.6" fill="none" stroke="#222" stroke-width="0.95"/>
<rect x="456.45" y="576.20" width="3.6" height="3.6" fill="none" stroke="#222" stroke-width="0.95"/>
<rect x="489.45" y="583.20" width="3.6" height="3.6" fill="none" stroke="#222" stroke-width="0.95"/>
</svg>
</body></html>
